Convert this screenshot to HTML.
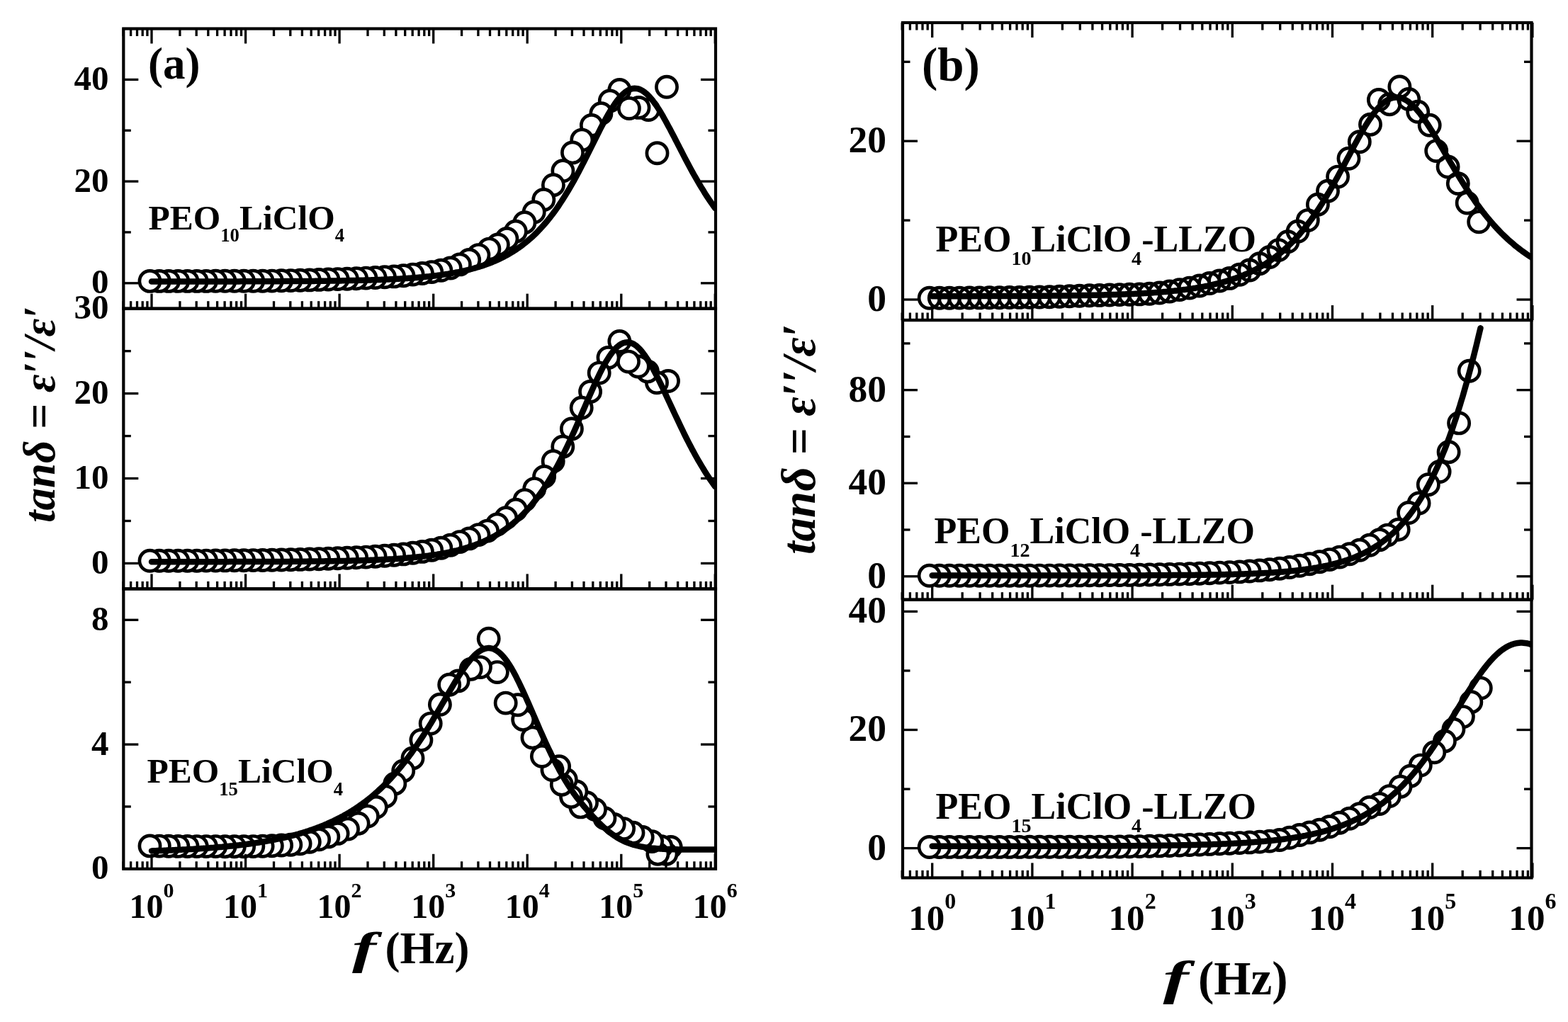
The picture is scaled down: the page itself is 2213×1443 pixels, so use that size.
<!DOCTYPE html>
<html><head><meta charset="utf-8"><style>html,body{margin:0;padding:0;background:#fff;}svg{display:block;filter:blur(0.5px);}</style></head><body>
<svg width="2213" height="1443" viewBox="0 0 2213 1443">
<rect width="2213" height="1443" fill="#fff"/>
<clipPath id="c_at"><rect x="174.3" y="40.5" width="835.7" height="395.2"/></clipPath>
<g clip-path="url(#c_at)" fill="#fff" stroke="#000" stroke-width="4.70">
<circle cx="941.0" cy="122.8" r="14.60"/>
<circle cx="927.5" cy="216.3" r="14.60"/>
<circle cx="915.1" cy="155.0" r="14.60"/>
<circle cx="901.5" cy="151.9" r="14.60"/>
<circle cx="887.9" cy="153.0" r="14.60"/>
<circle cx="874.4" cy="126.9" r="14.60"/>
<circle cx="860.8" cy="142.5" r="14.60"/>
<circle cx="848.4" cy="160.3" r="14.60"/>
<circle cx="834.9" cy="176.9" r="14.60"/>
<circle cx="821.3" cy="197.6" r="14.60"/>
<circle cx="808.0" cy="215.4" r="14.60"/>
<circle cx="794.4" cy="241.3" r="14.60"/>
<circle cx="780.9" cy="261.2" r="14.60"/>
<circle cx="767.3" cy="281.9" r="14.60"/>
<circle cx="753.7" cy="299.5" r="14.60"/>
<circle cx="740.4" cy="314.2" r="14.60"/>
<circle cx="727.8" cy="326.7" r="14.60"/>
<circle cx="715.4" cy="337.0" r="14.60"/>
<circle cx="702.8" cy="345.4" r="14.60"/>
<circle cx="690.4" cy="351.6" r="14.60"/>
<circle cx="675.4" cy="360.1" r="14.60"/>
<circle cx="662.2" cy="367.0" r="14.60"/>
<circle cx="648.9" cy="373.4" r="14.60"/>
<circle cx="635.7" cy="378.5" r="14.60"/>
<circle cx="622.4" cy="381.8" r="14.60"/>
<circle cx="609.2" cy="384.1" r="14.60"/>
<circle cx="595.9" cy="386.0" r="14.60"/>
<circle cx="582.6" cy="387.6" r="14.60"/>
<circle cx="569.4" cy="389.3" r="14.60"/>
<circle cx="556.1" cy="390.4" r="14.60"/>
<circle cx="542.9" cy="391.3" r="14.60"/>
<circle cx="529.6" cy="392.0" r="14.60"/>
<circle cx="516.4" cy="392.6" r="14.60"/>
<circle cx="503.1" cy="393.2" r="14.60"/>
<circle cx="489.9" cy="393.7" r="14.60"/>
<circle cx="476.6" cy="394.1" r="14.60"/>
<circle cx="463.3" cy="394.5" r="14.60"/>
<circle cx="450.1" cy="394.9" r="14.60"/>
<circle cx="436.8" cy="395.4" r="14.60"/>
<circle cx="423.6" cy="395.7" r="14.60"/>
<circle cx="410.3" cy="396.1" r="14.60"/>
<circle cx="397.1" cy="396.3" r="14.60"/>
<circle cx="383.8" cy="396.6" r="14.60"/>
<circle cx="370.6" cy="396.7" r="14.60"/>
<circle cx="357.3" cy="396.8" r="14.60"/>
<circle cx="344.1" cy="396.8" r="14.60"/>
<circle cx="330.8" cy="396.8" r="14.60"/>
<circle cx="317.5" cy="396.8" r="14.60"/>
<circle cx="304.3" cy="396.8" r="14.60"/>
<circle cx="291.0" cy="396.9" r="14.60"/>
<circle cx="277.8" cy="396.9" r="14.60"/>
<circle cx="264.5" cy="396.9" r="14.60"/>
<circle cx="251.3" cy="396.9" r="14.60"/>
<circle cx="238.0" cy="396.9" r="14.60"/>
<circle cx="224.8" cy="396.9" r="14.60"/>
<circle cx="211.5" cy="396.9" r="14.60"/>
<polyline points="214.0,397.5 216.0,397.5 218.0,397.5 220.0,397.5 222.0,397.5 224.0,397.5 226.0,397.5 228.0,397.5 229.9,397.5 231.9,397.5 233.9,397.5 235.9,397.5 237.9,397.5 239.9,397.5 241.9,397.5 243.9,397.5 245.9,397.4 247.9,397.4 249.9,397.4 251.9,397.4 253.9,397.4 255.9,397.4 257.9,397.4 259.8,397.4 261.8,397.4 263.8,397.4 265.8,397.4 267.8,397.4 269.8,397.4 271.8,397.4 273.8,397.4 275.8,397.4 277.8,397.4 279.8,397.4 281.8,397.4 283.8,397.4 285.8,397.4 287.7,397.4 289.7,397.4 291.7,397.4 293.7,397.4 295.7,397.4 297.7,397.4 299.7,397.4 301.7,397.4 303.7,397.4 305.7,397.4 307.7,397.4 309.7,397.4 311.7,397.4 313.7,397.4 315.7,397.4 317.6,397.4 319.6,397.4 321.6,397.4 323.6,397.4 325.6,397.4 327.6,397.4 329.6,397.4 331.6,397.4 333.6,397.4 335.6,397.4 337.6,397.4 339.6,397.3 341.6,397.3 343.6,397.3 345.6,397.3 347.5,397.3 349.5,397.3 351.5,397.3 353.5,397.3 355.5,397.3 357.5,397.3 359.5,397.3 361.5,397.3 363.5,397.3 365.5,397.3 367.5,397.3 369.5,397.3 371.5,397.3 373.5,397.3 375.5,397.3 377.4,397.2 379.4,397.2 381.4,397.2 383.4,397.2 385.4,397.2 387.4,397.2 389.4,397.2 391.4,397.2 393.4,397.2 395.4,397.2 397.4,397.2 399.4,397.2 401.4,397.1 403.4,397.1 405.4,397.1 407.3,397.1 409.3,397.1 411.3,397.1 413.3,397.1 415.3,397.1 417.3,397.1 419.3,397.0 421.3,397.0 423.3,397.0 425.3,397.0 427.3,397.0 429.3,397.0 431.3,397.0 433.3,396.9 435.2,396.9 437.2,396.9 439.2,396.9 441.2,396.9 443.2,396.9 445.2,396.8 447.2,396.8 449.2,396.8 451.2,396.8 453.2,396.7 455.2,396.7 457.2,396.7 459.2,396.7 461.2,396.7 463.2,396.6 465.1,396.6 467.1,396.6 469.1,396.6 471.1,396.5 473.1,396.5 475.1,396.5 477.1,396.4 479.1,396.4 481.1,396.4 483.1,396.3 485.1,396.3 487.1,396.3 489.1,396.2 491.1,396.2 493.1,396.1 495.0,396.1 497.0,396.1 499.0,396.0 501.0,396.0 503.0,395.9 505.0,395.9 507.0,395.8 509.0,395.8 511.0,395.7 513.0,395.7 515.0,395.6 517.0,395.6 519.0,395.5 521.0,395.5 523.0,395.4 524.9,395.3 526.9,395.3 528.9,395.2 530.9,395.1 532.9,395.1 534.9,395.0 536.9,394.9 538.9,394.8 540.9,394.7 542.9,394.7 544.9,394.6 546.9,394.5 548.9,394.4 550.9,394.3 552.8,394.2 554.8,394.1 556.8,394.0 558.8,393.9 560.8,393.8 562.8,393.7 564.8,393.6 566.8,393.4 568.8,393.3 570.8,393.2 572.8,393.1 574.8,392.9 576.8,392.8 578.8,392.7 580.8,392.5 582.7,392.4 584.7,392.2 586.7,392.0 588.7,391.9 590.7,391.7 592.7,391.5 594.7,391.4 596.7,391.2 598.7,391.0 600.7,390.8 602.7,390.6 604.7,390.4 606.7,390.1 608.7,389.9 610.7,389.7 612.6,389.5 614.6,389.2 616.6,389.0 618.6,388.7 620.6,388.4 622.6,388.2 624.6,387.9 626.6,387.6 628.6,387.3 630.6,387.0 632.6,386.7 634.6,386.3 636.6,386.0 638.6,385.7 640.6,385.3 642.5,384.9 644.5,384.5 646.5,384.2 648.5,383.8 650.5,383.3 652.5,382.9 654.5,382.5 656.5,382.0 658.5,381.5 660.5,381.1 662.5,380.6 664.5,380.0 666.5,379.5 668.5,379.0 670.5,378.4 672.4,377.8 674.4,377.2 676.4,376.6 678.4,376.0 680.4,375.4 682.4,374.7 684.4,374.0 686.4,373.3 688.4,372.6 690.4,371.8 692.4,371.0 694.4,370.2 696.4,369.4 698.4,368.6 700.3,367.7 702.3,366.8 704.3,365.9 706.3,364.9 708.3,363.9 710.3,362.9 712.3,361.9 714.3,360.8 716.3,359.7 718.3,358.6 720.3,357.4 722.3,356.2 724.3,355.0 726.3,353.7 728.3,352.4 730.2,351.1 732.2,349.7 734.2,348.3 736.2,346.8 738.2,345.3 740.2,343.7 742.2,342.1 744.2,340.5 746.2,338.8 748.2,337.1 750.2,335.3 752.2,333.5 754.2,331.6 756.2,329.7 758.2,327.7 760.1,325.6 762.1,323.5 764.1,321.4 766.1,319.2 768.1,316.9 770.1,314.6 772.1,312.2 774.1,309.8 776.1,307.3 778.1,304.7 780.1,302.1 782.1,299.4 784.1,296.7 786.1,293.9 788.1,291.0 790.0,288.0 792.0,285.0 794.0,281.9 796.0,278.8 798.0,275.6 800.0,272.3 802.0,269.0 804.0,265.6 806.0,262.2 808.0,258.7 810.0,255.1 812.0,251.5 814.0,247.8 816.0,244.1 817.9,240.3 819.9,236.5 821.9,232.6 823.9,228.7 825.9,224.8 827.9,220.8 829.9,216.8 831.9,212.8 833.9,208.8 835.9,204.8 837.9,200.8 839.9,196.8 841.9,192.8 843.9,188.8 845.9,184.9 847.8,181.0 849.8,177.2 851.8,173.4 853.8,169.7 855.8,166.1 857.8,162.5 859.8,159.1 861.8,155.7 863.8,152.5 865.8,149.5 867.8,146.5 869.8,143.7 871.8,141.1 873.8,138.6 875.8,136.4 877.7,134.3 879.7,132.4 881.7,130.7 883.7,129.2 885.7,127.9 887.7,126.8 889.7,126.0 891.7,125.4 893.7,125.0 895.7,124.8 897.7,124.9 899.7,125.2 901.7,125.7 903.7,126.5 905.7,127.5 907.6,128.7 909.6,130.1 911.6,131.7 913.6,133.5 915.6,135.5 917.6,137.6 919.6,140.0 921.6,142.5 923.6,145.2 925.6,148.0 927.6,151.0 929.6,154.0 931.6,157.2 933.6,160.6 935.6,164.0 937.5,167.5 939.5,171.0 941.5,174.7 943.5,178.4 945.5,182.1 947.5,185.9 949.5,189.8 951.5,193.6 953.5,197.5 955.5,201.4 957.5,205.2 959.5,209.1 961.5,213.0 963.5,216.9 965.4,220.7 967.4,224.5 969.4,228.3 971.4,232.1 973.4,235.8 975.4,239.5 977.4,243.1 979.4,246.7 981.4,250.2 983.4,253.7 985.4,257.1 987.4,260.5 989.4,263.9 991.4,267.1 993.4,270.3 995.3,273.5 997.3,276.6 999.3,279.6 1001.3,282.6 1003.3,285.5 1005.3,288.4 1007.3,291.2 1009.3,293.9" fill="none" stroke-width="8.50" stroke-linejoin="round" stroke-linecap="round"/>
</g>
<g stroke="#000" stroke-width="3.30" fill="none">
<line x1="174.1" y1="435.7" x2="174.1" y2="425.2"/>
<line x1="174.1" y1="40.5" x2="174.1" y2="51.0"/>
<line x1="184.6" y1="435.7" x2="184.6" y2="425.2"/>
<line x1="184.6" y1="40.5" x2="184.6" y2="51.0"/>
<line x1="193.5" y1="435.7" x2="193.5" y2="425.2"/>
<line x1="193.5" y1="40.5" x2="193.5" y2="51.0"/>
<line x1="201.2" y1="435.7" x2="201.2" y2="425.2"/>
<line x1="201.2" y1="40.5" x2="201.2" y2="51.0"/>
<line x1="207.9" y1="435.7" x2="207.9" y2="425.2"/>
<line x1="207.9" y1="40.5" x2="207.9" y2="51.0"/>
<line x1="214.0" y1="435.7" x2="214.0" y2="414.7"/>
<line x1="214.0" y1="40.5" x2="214.0" y2="61.5"/>
<line x1="253.9" y1="435.7" x2="253.9" y2="425.2"/>
<line x1="253.9" y1="40.5" x2="253.9" y2="51.0"/>
<line x1="277.2" y1="435.7" x2="277.2" y2="425.2"/>
<line x1="277.2" y1="40.5" x2="277.2" y2="51.0"/>
<line x1="293.8" y1="435.7" x2="293.8" y2="425.2"/>
<line x1="293.8" y1="40.5" x2="293.8" y2="51.0"/>
<line x1="306.6" y1="435.7" x2="306.6" y2="425.2"/>
<line x1="306.6" y1="40.5" x2="306.6" y2="51.0"/>
<line x1="317.1" y1="435.7" x2="317.1" y2="425.2"/>
<line x1="317.1" y1="40.5" x2="317.1" y2="51.0"/>
<line x1="326.0" y1="435.7" x2="326.0" y2="425.2"/>
<line x1="326.0" y1="40.5" x2="326.0" y2="51.0"/>
<line x1="333.7" y1="435.7" x2="333.7" y2="425.2"/>
<line x1="333.7" y1="40.5" x2="333.7" y2="51.0"/>
<line x1="340.5" y1="435.7" x2="340.5" y2="425.2"/>
<line x1="340.5" y1="40.5" x2="340.5" y2="51.0"/>
<line x1="346.6" y1="435.7" x2="346.6" y2="414.7"/>
<line x1="346.6" y1="40.5" x2="346.6" y2="61.5"/>
<line x1="386.5" y1="435.7" x2="386.5" y2="425.2"/>
<line x1="386.5" y1="40.5" x2="386.5" y2="51.0"/>
<line x1="409.8" y1="435.7" x2="409.8" y2="425.2"/>
<line x1="409.8" y1="40.5" x2="409.8" y2="51.0"/>
<line x1="426.4" y1="435.7" x2="426.4" y2="425.2"/>
<line x1="426.4" y1="40.5" x2="426.4" y2="51.0"/>
<line x1="439.2" y1="435.7" x2="439.2" y2="425.2"/>
<line x1="439.2" y1="40.5" x2="439.2" y2="51.0"/>
<line x1="449.7" y1="435.7" x2="449.7" y2="425.2"/>
<line x1="449.7" y1="40.5" x2="449.7" y2="51.0"/>
<line x1="458.6" y1="435.7" x2="458.6" y2="425.2"/>
<line x1="458.6" y1="40.5" x2="458.6" y2="51.0"/>
<line x1="466.3" y1="435.7" x2="466.3" y2="425.2"/>
<line x1="466.3" y1="40.5" x2="466.3" y2="51.0"/>
<line x1="473.0" y1="435.7" x2="473.0" y2="425.2"/>
<line x1="473.0" y1="40.5" x2="473.0" y2="51.0"/>
<line x1="479.1" y1="435.7" x2="479.1" y2="414.7"/>
<line x1="479.1" y1="40.5" x2="479.1" y2="61.5"/>
<line x1="519.0" y1="435.7" x2="519.0" y2="425.2"/>
<line x1="519.0" y1="40.5" x2="519.0" y2="51.0"/>
<line x1="542.3" y1="435.7" x2="542.3" y2="425.2"/>
<line x1="542.3" y1="40.5" x2="542.3" y2="51.0"/>
<line x1="558.9" y1="435.7" x2="558.9" y2="425.2"/>
<line x1="558.9" y1="40.5" x2="558.9" y2="51.0"/>
<line x1="571.7" y1="435.7" x2="571.7" y2="425.2"/>
<line x1="571.7" y1="40.5" x2="571.7" y2="51.0"/>
<line x1="582.2" y1="435.7" x2="582.2" y2="425.2"/>
<line x1="582.2" y1="40.5" x2="582.2" y2="51.0"/>
<line x1="591.1" y1="435.7" x2="591.1" y2="425.2"/>
<line x1="591.1" y1="40.5" x2="591.1" y2="51.0"/>
<line x1="598.8" y1="435.7" x2="598.8" y2="425.2"/>
<line x1="598.8" y1="40.5" x2="598.8" y2="51.0"/>
<line x1="605.6" y1="435.7" x2="605.6" y2="425.2"/>
<line x1="605.6" y1="40.5" x2="605.6" y2="51.0"/>
<line x1="611.7" y1="435.7" x2="611.7" y2="414.7"/>
<line x1="611.7" y1="40.5" x2="611.7" y2="61.5"/>
<line x1="651.6" y1="435.7" x2="651.6" y2="425.2"/>
<line x1="651.6" y1="40.5" x2="651.6" y2="51.0"/>
<line x1="674.9" y1="435.7" x2="674.9" y2="425.2"/>
<line x1="674.9" y1="40.5" x2="674.9" y2="51.0"/>
<line x1="691.5" y1="435.7" x2="691.5" y2="425.2"/>
<line x1="691.5" y1="40.5" x2="691.5" y2="51.0"/>
<line x1="704.3" y1="435.7" x2="704.3" y2="425.2"/>
<line x1="704.3" y1="40.5" x2="704.3" y2="51.0"/>
<line x1="714.8" y1="435.7" x2="714.8" y2="425.2"/>
<line x1="714.8" y1="40.5" x2="714.8" y2="51.0"/>
<line x1="723.7" y1="435.7" x2="723.7" y2="425.2"/>
<line x1="723.7" y1="40.5" x2="723.7" y2="51.0"/>
<line x1="731.4" y1="435.7" x2="731.4" y2="425.2"/>
<line x1="731.4" y1="40.5" x2="731.4" y2="51.0"/>
<line x1="738.1" y1="435.7" x2="738.1" y2="425.2"/>
<line x1="738.1" y1="40.5" x2="738.1" y2="51.0"/>
<line x1="744.2" y1="435.7" x2="744.2" y2="414.7"/>
<line x1="744.2" y1="40.5" x2="744.2" y2="61.5"/>
<line x1="784.1" y1="435.7" x2="784.1" y2="425.2"/>
<line x1="784.1" y1="40.5" x2="784.1" y2="51.0"/>
<line x1="807.4" y1="435.7" x2="807.4" y2="425.2"/>
<line x1="807.4" y1="40.5" x2="807.4" y2="51.0"/>
<line x1="824.0" y1="435.7" x2="824.0" y2="425.2"/>
<line x1="824.0" y1="40.5" x2="824.0" y2="51.0"/>
<line x1="836.8" y1="435.7" x2="836.8" y2="425.2"/>
<line x1="836.8" y1="40.5" x2="836.8" y2="51.0"/>
<line x1="847.3" y1="435.7" x2="847.3" y2="425.2"/>
<line x1="847.3" y1="40.5" x2="847.3" y2="51.0"/>
<line x1="856.2" y1="435.7" x2="856.2" y2="425.2"/>
<line x1="856.2" y1="40.5" x2="856.2" y2="51.0"/>
<line x1="863.9" y1="435.7" x2="863.9" y2="425.2"/>
<line x1="863.9" y1="40.5" x2="863.9" y2="51.0"/>
<line x1="870.7" y1="435.7" x2="870.7" y2="425.2"/>
<line x1="870.7" y1="40.5" x2="870.7" y2="51.0"/>
<line x1="876.8" y1="435.7" x2="876.8" y2="414.7"/>
<line x1="876.8" y1="40.5" x2="876.8" y2="61.5"/>
<line x1="916.7" y1="435.7" x2="916.7" y2="425.2"/>
<line x1="916.7" y1="40.5" x2="916.7" y2="51.0"/>
<line x1="940.0" y1="435.7" x2="940.0" y2="425.2"/>
<line x1="940.0" y1="40.5" x2="940.0" y2="51.0"/>
<line x1="956.6" y1="435.7" x2="956.6" y2="425.2"/>
<line x1="956.6" y1="40.5" x2="956.6" y2="51.0"/>
<line x1="969.4" y1="435.7" x2="969.4" y2="425.2"/>
<line x1="969.4" y1="40.5" x2="969.4" y2="51.0"/>
<line x1="979.9" y1="435.7" x2="979.9" y2="425.2"/>
<line x1="979.9" y1="40.5" x2="979.9" y2="51.0"/>
<line x1="988.8" y1="435.7" x2="988.8" y2="425.2"/>
<line x1="988.8" y1="40.5" x2="988.8" y2="51.0"/>
<line x1="996.5" y1="435.7" x2="996.5" y2="425.2"/>
<line x1="996.5" y1="40.5" x2="996.5" y2="51.0"/>
<line x1="1003.2" y1="435.7" x2="1003.2" y2="425.2"/>
<line x1="1003.2" y1="40.5" x2="1003.2" y2="51.0"/>
<line x1="1009.3" y1="435.7" x2="1009.3" y2="414.7"/>
<line x1="1009.3" y1="40.5" x2="1009.3" y2="61.5"/>
<line x1="174.3" y1="399.8" x2="195.3" y2="399.8"/><line x1="1010.0" y1="399.8" x2="989.0" y2="399.8"/>
<line x1="174.3" y1="256.1" x2="195.3" y2="256.1"/><line x1="1010.0" y1="256.1" x2="989.0" y2="256.1"/>
<line x1="174.3" y1="112.4" x2="195.3" y2="112.4"/><line x1="1010.0" y1="112.4" x2="989.0" y2="112.4"/>
<line x1="174.3" y1="327.9" x2="184.8" y2="327.9"/><line x1="1010.0" y1="327.9" x2="999.5" y2="327.9"/>
<line x1="174.3" y1="184.2" x2="184.8" y2="184.2"/><line x1="1010.0" y1="184.2" x2="999.5" y2="184.2"/>
</g>
<rect x="174.3" y="40.5" width="835.7" height="395.2" fill="none" stroke="#000" stroke-width="4.20"/>
<text x="153.5" y="414.2" font-family="'Liberation Serif', 'Times New Roman', serif" font-weight="bold" font-size="49.0" text-anchor="end">0</text>
<text x="153.5" y="270.5" font-family="'Liberation Serif', 'Times New Roman', serif" font-weight="bold" font-size="49.0" text-anchor="end">20</text>
<text x="153.5" y="126.8" font-family="'Liberation Serif', 'Times New Roman', serif" font-weight="bold" font-size="49.0" text-anchor="end">40</text>
<clipPath id="c_am"><rect x="174.3" y="435.7" width="835.7" height="395.7"/></clipPath>
<g clip-path="url(#c_am)" fill="#fff" stroke="#000" stroke-width="4.70">
<circle cx="943.0" cy="538.0" r="14.60"/>
<circle cx="927.0" cy="540.3" r="14.60"/>
<circle cx="913.9" cy="524.4" r="14.60"/>
<circle cx="900.7" cy="517.5" r="14.60"/>
<circle cx="887.0" cy="510.6" r="14.60"/>
<circle cx="874.4" cy="482.0" r="14.60"/>
<circle cx="858.5" cy="504.9" r="14.60"/>
<circle cx="845.7" cy="526.6" r="14.60"/>
<circle cx="833.1" cy="552.9" r="14.60"/>
<circle cx="820.7" cy="575.8" r="14.60"/>
<circle cx="806.9" cy="605.5" r="14.60"/>
<circle cx="794.3" cy="630.7" r="14.60"/>
<circle cx="780.7" cy="651.2" r="14.60"/>
<circle cx="768.1" cy="673.0" r="14.60"/>
<circle cx="754.3" cy="690.1" r="14.60"/>
<circle cx="740.6" cy="706.1" r="14.60"/>
<circle cx="728.0" cy="719.8" r="14.60"/>
<circle cx="714.2" cy="731.3" r="14.60"/>
<circle cx="701.7" cy="740.4" r="14.60"/>
<circle cx="688.0" cy="749.6" r="14.60"/>
<circle cx="675.4" cy="755.1" r="14.60"/>
<circle cx="662.2" cy="760.4" r="14.60"/>
<circle cx="648.9" cy="765.1" r="14.60"/>
<circle cx="635.7" cy="769.7" r="14.60"/>
<circle cx="622.4" cy="773.8" r="14.60"/>
<circle cx="609.2" cy="776.7" r="14.60"/>
<circle cx="595.9" cy="778.9" r="14.60"/>
<circle cx="582.6" cy="780.8" r="14.60"/>
<circle cx="569.4" cy="782.4" r="14.60"/>
<circle cx="556.1" cy="783.7" r="14.60"/>
<circle cx="542.9" cy="784.8" r="14.60"/>
<circle cx="529.6" cy="785.7" r="14.60"/>
<circle cx="516.4" cy="786.6" r="14.60"/>
<circle cx="503.1" cy="787.3" r="14.60"/>
<circle cx="489.9" cy="787.8" r="14.60"/>
<circle cx="476.6" cy="788.3" r="14.60"/>
<circle cx="463.3" cy="788.7" r="14.60"/>
<circle cx="450.1" cy="789.2" r="14.60"/>
<circle cx="436.8" cy="789.5" r="14.60"/>
<circle cx="423.6" cy="789.9" r="14.60"/>
<circle cx="410.3" cy="790.2" r="14.60"/>
<circle cx="397.1" cy="790.5" r="14.60"/>
<circle cx="383.8" cy="790.8" r="14.60"/>
<circle cx="370.6" cy="791.0" r="14.60"/>
<circle cx="357.3" cy="791.1" r="14.60"/>
<circle cx="344.1" cy="791.2" r="14.60"/>
<circle cx="330.8" cy="791.3" r="14.60"/>
<circle cx="317.5" cy="791.4" r="14.60"/>
<circle cx="304.3" cy="791.5" r="14.60"/>
<circle cx="291.0" cy="791.6" r="14.60"/>
<circle cx="277.8" cy="791.7" r="14.60"/>
<circle cx="264.5" cy="791.7" r="14.60"/>
<circle cx="251.3" cy="791.8" r="14.60"/>
<circle cx="238.0" cy="791.8" r="14.60"/>
<circle cx="224.8" cy="791.8" r="14.60"/>
<circle cx="211.5" cy="791.8" r="14.60"/>
<polyline points="214.0,793.2 216.0,793.2 218.0,793.2 220.0,793.2 222.0,793.2 224.0,793.2 226.0,793.2 228.0,793.2 229.9,793.2 231.9,793.2 233.9,793.2 235.9,793.2 237.9,793.2 239.9,793.2 241.9,793.2 243.9,793.2 245.9,793.2 247.9,793.2 249.9,793.2 251.9,793.2 253.9,793.2 255.9,793.2 257.9,793.2 259.8,793.2 261.8,793.2 263.8,793.2 265.8,793.2 267.8,793.2 269.8,793.2 271.8,793.2 273.8,793.2 275.8,793.2 277.8,793.2 279.8,793.2 281.8,793.2 283.8,793.2 285.8,793.2 287.7,793.2 289.7,793.2 291.7,793.2 293.7,793.2 295.7,793.2 297.7,793.2 299.7,793.2 301.7,793.2 303.7,793.2 305.7,793.2 307.7,793.2 309.7,793.2 311.7,793.2 313.7,793.2 315.7,793.2 317.6,793.2 319.6,793.2 321.6,793.2 323.6,793.1 325.6,793.1 327.6,793.1 329.6,793.1 331.6,793.1 333.6,793.1 335.6,793.1 337.6,793.1 339.6,793.1 341.6,793.1 343.6,793.1 345.6,793.1 347.5,793.1 349.5,793.1 351.5,793.1 353.5,793.1 355.5,793.1 357.5,793.1 359.5,793.1 361.5,793.1 363.5,793.1 365.5,793.0 367.5,793.0 369.5,793.0 371.5,793.0 373.5,793.0 375.5,793.0 377.4,793.0 379.4,793.0 381.4,793.0 383.4,793.0 385.4,793.0 387.4,793.0 389.4,793.0 391.4,792.9 393.4,792.9 395.4,792.9 397.4,792.9 399.4,792.9 401.4,792.9 403.4,792.9 405.4,792.9 407.3,792.9 409.3,792.8 411.3,792.8 413.3,792.8 415.3,792.8 417.3,792.8 419.3,792.8 421.3,792.8 423.3,792.7 425.3,792.7 427.3,792.7 429.3,792.7 431.3,792.7 433.3,792.7 435.2,792.6 437.2,792.6 439.2,792.6 441.2,792.6 443.2,792.5 445.2,792.5 447.2,792.5 449.2,792.5 451.2,792.5 453.2,792.4 455.2,792.4 457.2,792.4 459.2,792.3 461.2,792.3 463.2,792.3 465.1,792.3 467.1,792.2 469.1,792.2 471.1,792.2 473.1,792.1 475.1,792.1 477.1,792.1 479.1,792.0 481.1,792.0 483.1,791.9 485.1,791.9 487.1,791.9 489.1,791.8 491.1,791.8 493.1,791.7 495.0,791.7 497.0,791.6 499.0,791.6 501.0,791.5 503.0,791.5 505.0,791.4 507.0,791.4 509.0,791.3 511.0,791.2 513.0,791.2 515.0,791.1 517.0,791.0 519.0,791.0 521.0,790.9 523.0,790.8 524.9,790.7 526.9,790.7 528.9,790.6 530.9,790.5 532.9,790.4 534.9,790.3 536.9,790.2 538.9,790.1 540.9,790.0 542.9,789.9 544.9,789.8 546.9,789.7 548.9,789.6 550.9,789.5 552.8,789.4 554.8,789.3 556.8,789.1 558.8,789.0 560.8,788.9 562.8,788.7 564.8,788.6 566.8,788.4 568.8,788.3 570.8,788.1 572.8,788.0 574.8,787.8 576.8,787.6 578.8,787.5 580.8,787.3 582.7,787.1 584.7,786.9 586.7,786.7 588.7,786.5 590.7,786.3 592.7,786.1 594.7,785.9 596.7,785.6 598.7,785.4 600.7,785.1 602.7,784.9 604.7,784.6 606.7,784.3 608.7,784.1 610.7,783.8 612.6,783.5 614.6,783.2 616.6,782.9 618.6,782.5 620.6,782.2 622.6,781.9 624.6,781.5 626.6,781.1 628.6,780.8 630.6,780.4 632.6,780.0 634.6,779.5 636.6,779.1 638.6,778.7 640.6,778.2 642.5,777.7 644.5,777.3 646.5,776.8 648.5,776.2 650.5,775.7 652.5,775.2 654.5,774.6 656.5,774.0 658.5,773.4 660.5,772.8 662.5,772.1 664.5,771.5 666.5,770.8 668.5,770.1 670.5,769.4 672.4,768.6 674.4,767.9 676.4,767.1 678.4,766.3 680.4,765.4 682.4,764.6 684.4,763.7 686.4,762.7 688.4,761.8 690.4,760.8 692.4,759.8 694.4,758.8 696.4,757.7 698.4,756.6 700.3,755.5 702.3,754.3 704.3,753.1 706.3,751.8 708.3,750.6 710.3,749.2 712.3,747.9 714.3,746.5 716.3,745.0 718.3,743.5 720.3,742.0 722.3,740.4 724.3,738.8 726.3,737.1 728.3,735.4 730.2,733.7 732.2,731.8 734.2,730.0 736.2,728.0 738.2,726.1 740.2,724.0 742.2,721.9 744.2,719.8 746.2,717.5 748.2,715.3 750.2,712.9 752.2,710.5 754.2,708.0 756.2,705.5 758.2,702.9 760.1,700.2 762.1,697.5 764.1,694.7 766.1,691.8 768.1,688.8 770.1,685.8 772.1,682.7 774.1,679.5 776.1,676.2 778.1,672.9 780.1,669.5 782.1,666.0 784.1,662.4 786.1,658.8 788.1,655.1 790.0,651.3 792.0,647.4 794.0,643.5 796.0,639.5 798.0,635.4 800.0,631.3 802.0,627.0 804.0,622.8 806.0,618.5 808.0,614.1 810.0,609.7 812.0,605.2 814.0,600.7 816.0,596.1 817.9,591.5 819.9,586.9 821.9,582.3 823.9,577.7 825.9,573.1 827.9,568.4 829.9,563.8 831.9,559.2 833.9,554.7 835.9,550.2 837.9,545.7 839.9,541.3 841.9,537.0 843.9,532.8 845.9,528.7 847.8,524.7 849.8,520.8 851.8,517.0 853.8,513.4 855.8,509.9 857.8,506.7 859.8,503.5 861.8,500.6 863.8,497.9 865.8,495.4 867.8,493.1 869.8,491.0 871.8,489.2 873.8,487.6 875.8,486.2 877.7,485.1 879.7,484.3 881.7,483.7 883.7,483.4 885.7,483.3 887.7,483.5 889.7,483.9 891.7,484.6 893.7,485.5 895.7,486.7 897.7,488.1 899.7,489.8 901.7,491.6 903.7,493.7 905.7,496.0 907.6,498.5 909.6,501.2 911.6,504.1 913.6,507.1 915.6,510.3 917.6,513.6 919.6,517.1 921.6,520.7 923.6,524.4 925.6,528.2 927.6,532.1 929.6,536.1 931.6,540.2 933.6,544.3 935.6,548.4 937.5,552.7 939.5,556.9 941.5,561.2 943.5,565.5 945.5,569.8 947.5,574.1 949.5,578.4 951.5,582.7 953.5,587.0 955.5,591.2 957.5,595.4 959.5,599.6 961.5,603.8 963.5,607.9 965.4,612.0 967.4,616.0 969.4,620.0 971.4,623.9 973.4,627.8 975.4,631.6 977.4,635.4 979.4,639.0 981.4,642.7 983.4,646.3 985.4,649.8 987.4,653.2 989.4,656.6 991.4,659.9 993.4,663.2 995.3,666.4 997.3,669.5 999.3,672.6 1001.3,675.6 1003.3,678.5 1005.3,681.4 1007.3,684.2 1009.3,686.9" fill="none" stroke-width="8.50" stroke-linejoin="round" stroke-linecap="round"/>
</g>
<g stroke="#000" stroke-width="3.30" fill="none">
<line x1="174.1" y1="831.4" x2="174.1" y2="820.9"/>
<line x1="184.6" y1="831.4" x2="184.6" y2="820.9"/>
<line x1="193.5" y1="831.4" x2="193.5" y2="820.9"/>
<line x1="201.2" y1="831.4" x2="201.2" y2="820.9"/>
<line x1="207.9" y1="831.4" x2="207.9" y2="820.9"/>
<line x1="214.0" y1="831.4" x2="214.0" y2="810.4"/>
<line x1="253.9" y1="831.4" x2="253.9" y2="820.9"/>
<line x1="277.2" y1="831.4" x2="277.2" y2="820.9"/>
<line x1="293.8" y1="831.4" x2="293.8" y2="820.9"/>
<line x1="306.6" y1="831.4" x2="306.6" y2="820.9"/>
<line x1="317.1" y1="831.4" x2="317.1" y2="820.9"/>
<line x1="326.0" y1="831.4" x2="326.0" y2="820.9"/>
<line x1="333.7" y1="831.4" x2="333.7" y2="820.9"/>
<line x1="340.5" y1="831.4" x2="340.5" y2="820.9"/>
<line x1="346.6" y1="831.4" x2="346.6" y2="810.4"/>
<line x1="386.5" y1="831.4" x2="386.5" y2="820.9"/>
<line x1="409.8" y1="831.4" x2="409.8" y2="820.9"/>
<line x1="426.4" y1="831.4" x2="426.4" y2="820.9"/>
<line x1="439.2" y1="831.4" x2="439.2" y2="820.9"/>
<line x1="449.7" y1="831.4" x2="449.7" y2="820.9"/>
<line x1="458.6" y1="831.4" x2="458.6" y2="820.9"/>
<line x1="466.3" y1="831.4" x2="466.3" y2="820.9"/>
<line x1="473.0" y1="831.4" x2="473.0" y2="820.9"/>
<line x1="479.1" y1="831.4" x2="479.1" y2="810.4"/>
<line x1="519.0" y1="831.4" x2="519.0" y2="820.9"/>
<line x1="542.3" y1="831.4" x2="542.3" y2="820.9"/>
<line x1="558.9" y1="831.4" x2="558.9" y2="820.9"/>
<line x1="571.7" y1="831.4" x2="571.7" y2="820.9"/>
<line x1="582.2" y1="831.4" x2="582.2" y2="820.9"/>
<line x1="591.1" y1="831.4" x2="591.1" y2="820.9"/>
<line x1="598.8" y1="831.4" x2="598.8" y2="820.9"/>
<line x1="605.6" y1="831.4" x2="605.6" y2="820.9"/>
<line x1="611.7" y1="831.4" x2="611.7" y2="810.4"/>
<line x1="651.6" y1="831.4" x2="651.6" y2="820.9"/>
<line x1="674.9" y1="831.4" x2="674.9" y2="820.9"/>
<line x1="691.5" y1="831.4" x2="691.5" y2="820.9"/>
<line x1="704.3" y1="831.4" x2="704.3" y2="820.9"/>
<line x1="714.8" y1="831.4" x2="714.8" y2="820.9"/>
<line x1="723.7" y1="831.4" x2="723.7" y2="820.9"/>
<line x1="731.4" y1="831.4" x2="731.4" y2="820.9"/>
<line x1="738.1" y1="831.4" x2="738.1" y2="820.9"/>
<line x1="744.2" y1="831.4" x2="744.2" y2="810.4"/>
<line x1="784.1" y1="831.4" x2="784.1" y2="820.9"/>
<line x1="807.4" y1="831.4" x2="807.4" y2="820.9"/>
<line x1="824.0" y1="831.4" x2="824.0" y2="820.9"/>
<line x1="836.8" y1="831.4" x2="836.8" y2="820.9"/>
<line x1="847.3" y1="831.4" x2="847.3" y2="820.9"/>
<line x1="856.2" y1="831.4" x2="856.2" y2="820.9"/>
<line x1="863.9" y1="831.4" x2="863.9" y2="820.9"/>
<line x1="870.7" y1="831.4" x2="870.7" y2="820.9"/>
<line x1="876.8" y1="831.4" x2="876.8" y2="810.4"/>
<line x1="916.7" y1="831.4" x2="916.7" y2="820.9"/>
<line x1="940.0" y1="831.4" x2="940.0" y2="820.9"/>
<line x1="956.6" y1="831.4" x2="956.6" y2="820.9"/>
<line x1="969.4" y1="831.4" x2="969.4" y2="820.9"/>
<line x1="979.9" y1="831.4" x2="979.9" y2="820.9"/>
<line x1="988.8" y1="831.4" x2="988.8" y2="820.9"/>
<line x1="996.5" y1="831.4" x2="996.5" y2="820.9"/>
<line x1="1003.2" y1="831.4" x2="1003.2" y2="820.9"/>
<line x1="1009.3" y1="831.4" x2="1009.3" y2="810.4"/>
<line x1="174.3" y1="795.4" x2="195.3" y2="795.4"/><line x1="1010.0" y1="795.4" x2="989.0" y2="795.4"/>
<line x1="174.3" y1="675.5" x2="195.3" y2="675.5"/><line x1="1010.0" y1="675.5" x2="989.0" y2="675.5"/>
<line x1="174.3" y1="555.6" x2="195.3" y2="555.6"/><line x1="1010.0" y1="555.6" x2="989.0" y2="555.6"/>
<line x1="174.3" y1="735.5" x2="184.8" y2="735.5"/><line x1="1010.0" y1="735.5" x2="999.5" y2="735.5"/>
<line x1="174.3" y1="615.6" x2="184.8" y2="615.6"/><line x1="1010.0" y1="615.6" x2="999.5" y2="615.6"/>
<line x1="174.3" y1="495.7" x2="184.8" y2="495.7"/><line x1="1010.0" y1="495.7" x2="999.5" y2="495.7"/>
</g>
<rect x="174.3" y="435.7" width="835.7" height="395.7" fill="none" stroke="#000" stroke-width="4.20"/>
<text x="153.5" y="809.8" font-family="'Liberation Serif', 'Times New Roman', serif" font-weight="bold" font-size="49.0" text-anchor="end">0</text>
<text x="153.5" y="689.9" font-family="'Liberation Serif', 'Times New Roman', serif" font-weight="bold" font-size="49.0" text-anchor="end">10</text>
<text x="153.5" y="570.0" font-family="'Liberation Serif', 'Times New Roman', serif" font-weight="bold" font-size="49.0" text-anchor="end">20</text>
<text x="153.5" y="450.1" font-family="'Liberation Serif', 'Times New Roman', serif" font-weight="bold" font-size="49.0" text-anchor="end">30</text>
<clipPath id="c_ab"><rect x="174.3" y="831.4" width="835.7" height="395.4"/></clipPath>
<g clip-path="url(#c_ab)" fill="#fff" stroke="#000" stroke-width="4.70">
<circle cx="946.7" cy="1196.0" r="14.60"/>
<circle cx="940.4" cy="1205.7" r="14.60"/>
<circle cx="933.3" cy="1195.2" r="14.60"/>
<circle cx="928.4" cy="1205.7" r="14.60"/>
<circle cx="920.1" cy="1188.1" r="14.60"/>
<circle cx="906.7" cy="1182.0" r="14.60"/>
<circle cx="893.5" cy="1175.8" r="14.60"/>
<circle cx="880.1" cy="1170.1" r="14.60"/>
<circle cx="866.7" cy="1164.0" r="14.60"/>
<circle cx="853.4" cy="1155.2" r="14.60"/>
<circle cx="840.0" cy="1142.9" r="14.60"/>
<circle cx="828.0" cy="1133.2" r="14.60"/>
<circle cx="819.4" cy="1139.4" r="14.60"/>
<circle cx="813.4" cy="1117.4" r="14.60"/>
<circle cx="806.1" cy="1124.9" r="14.60"/>
<circle cx="798.8" cy="1100.7" r="14.60"/>
<circle cx="792.8" cy="1107.7" r="14.60"/>
<circle cx="789.1" cy="1082.3" r="14.60"/>
<circle cx="779.5" cy="1087.1" r="14.60"/>
<circle cx="764.9" cy="1067.8" r="14.60"/>
<circle cx="751.5" cy="1041.4" r="14.60"/>
<circle cx="738.2" cy="1015.9" r="14.60"/>
<circle cx="730.9" cy="995.3" r="14.60"/>
<circle cx="713.7" cy="992.6" r="14.60"/>
<circle cx="701.8" cy="949.1" r="14.60"/>
<circle cx="689.7" cy="901.7" r="14.60"/>
<circle cx="677.9" cy="942.1" r="14.60"/>
<circle cx="664.7" cy="944.7" r="14.60"/>
<circle cx="646.6" cy="961.4" r="14.60"/>
<circle cx="634.2" cy="966.7" r="14.60"/>
<circle cx="620.9" cy="994.8" r="14.60"/>
<circle cx="607.7" cy="1021.6" r="14.60"/>
<circle cx="594.4" cy="1044.9" r="14.60"/>
<circle cx="582.5" cy="1070.4" r="14.60"/>
<circle cx="569.2" cy="1088.4" r="14.60"/>
<circle cx="557.3" cy="1106.4" r="14.60"/>
<circle cx="544.0" cy="1124.4" r="14.60"/>
<circle cx="530.8" cy="1139.8" r="14.60"/>
<circle cx="518.9" cy="1152.6" r="14.60"/>
<circle cx="505.6" cy="1162.7" r="14.60"/>
<circle cx="491.0" cy="1170.6" r="14.60"/>
<circle cx="476.6" cy="1176.9" r="14.60"/>
<circle cx="463.3" cy="1181.4" r="14.60"/>
<circle cx="450.1" cy="1185.3" r="14.60"/>
<circle cx="436.8" cy="1188.7" r="14.60"/>
<circle cx="423.6" cy="1191.3" r="14.60"/>
<circle cx="410.3" cy="1192.7" r="14.60"/>
<circle cx="397.1" cy="1193.5" r="14.60"/>
<circle cx="383.8" cy="1194.2" r="14.60"/>
<circle cx="370.6" cy="1194.8" r="14.60"/>
<circle cx="357.3" cy="1195.1" r="14.60"/>
<circle cx="344.1" cy="1195.2" r="14.60"/>
<circle cx="330.8" cy="1195.2" r="14.60"/>
<circle cx="317.5" cy="1195.2" r="14.60"/>
<circle cx="304.3" cy="1195.1" r="14.60"/>
<circle cx="291.0" cy="1195.1" r="14.60"/>
<circle cx="277.8" cy="1195.1" r="14.60"/>
<circle cx="264.5" cy="1195.0" r="14.60"/>
<circle cx="251.3" cy="1194.9" r="14.60"/>
<circle cx="238.0" cy="1194.8" r="14.60"/>
<circle cx="224.8" cy="1194.6" r="14.60"/>
<circle cx="211.5" cy="1194.4" r="14.60"/>
<polyline points="214.0,1201.4 216.0,1201.3 218.0,1201.3 220.0,1201.2 222.0,1201.1 224.0,1201.1 226.0,1201.0 228.0,1200.9 229.9,1200.9 231.9,1200.8 233.9,1200.7 235.9,1200.6 237.9,1200.5 239.9,1200.5 241.9,1200.4 243.9,1200.3 245.9,1200.2 247.9,1200.1 249.9,1200.0 251.9,1199.9 253.9,1199.8 255.9,1199.7 257.9,1199.6 259.8,1199.5 261.8,1199.4 263.8,1199.3 265.8,1199.2 267.8,1199.1 269.8,1199.0 271.8,1198.9 273.8,1198.7 275.8,1198.6 277.8,1198.5 279.8,1198.4 281.8,1198.2 283.8,1198.1 285.8,1198.0 287.7,1197.8 289.7,1197.7 291.7,1197.6 293.7,1197.4 295.7,1197.3 297.7,1197.1 299.7,1196.9 301.7,1196.8 303.7,1196.6 305.7,1196.5 307.7,1196.3 309.7,1196.1 311.7,1195.9 313.7,1195.8 315.7,1195.6 317.6,1195.4 319.6,1195.2 321.6,1195.0 323.6,1194.8 325.6,1194.6 327.6,1194.4 329.6,1194.2 331.6,1194.0 333.6,1193.7 335.6,1193.5 337.6,1193.3 339.6,1193.0 341.6,1192.8 343.6,1192.5 345.6,1192.3 347.5,1192.0 349.5,1191.8 351.5,1191.5 353.5,1191.2 355.5,1190.9 357.5,1190.7 359.5,1190.4 361.5,1190.1 363.5,1189.8 365.5,1189.5 367.5,1189.1 369.5,1188.8 371.5,1188.5 373.5,1188.1 375.5,1187.8 377.4,1187.4 379.4,1187.1 381.4,1186.7 383.4,1186.3 385.4,1185.9 387.4,1185.6 389.4,1185.2 391.4,1184.7 393.4,1184.3 395.4,1183.9 397.4,1183.5 399.4,1183.0 401.4,1182.6 403.4,1182.1 405.4,1181.6 407.3,1181.1 409.3,1180.6 411.3,1180.1 413.3,1179.6 415.3,1179.1 417.3,1178.6 419.3,1178.0 421.3,1177.5 423.3,1176.9 425.3,1176.3 427.3,1175.7 429.3,1175.1 431.3,1174.5 433.3,1173.8 435.2,1173.2 437.2,1172.5 439.2,1171.8 441.2,1171.2 443.2,1170.4 445.2,1169.7 447.2,1169.0 449.2,1168.2 451.2,1167.5 453.2,1166.7 455.2,1165.9 457.2,1165.1 459.2,1164.2 461.2,1163.4 463.2,1162.5 465.1,1161.6 467.1,1160.7 469.1,1159.8 471.1,1158.9 473.1,1157.9 475.1,1156.9 477.1,1155.9 479.1,1154.9 481.1,1153.8 483.1,1152.7 485.1,1151.7 487.1,1150.5 489.1,1149.4 491.1,1148.2 493.1,1147.1 495.0,1145.8 497.0,1144.6 499.0,1143.3 501.0,1142.1 503.0,1140.7 505.0,1139.4 507.0,1138.0 509.0,1136.6 511.0,1135.2 513.0,1133.7 515.0,1132.3 517.0,1130.7 519.0,1129.2 521.0,1127.6 523.0,1126.0 524.9,1124.4 526.9,1122.7 528.9,1121.0 530.9,1119.2 532.9,1117.5 534.9,1115.7 536.9,1113.8 538.9,1111.9 540.9,1110.0 542.9,1108.0 544.9,1106.0 546.9,1104.0 548.9,1101.9 550.9,1099.8 552.8,1097.7 554.8,1095.5 556.8,1093.2 558.8,1091.0 560.8,1088.6 562.8,1086.3 564.8,1083.9 566.8,1081.4 568.8,1078.9 570.8,1076.4 572.8,1073.8 574.8,1071.2 576.8,1068.5 578.8,1065.8 580.8,1063.1 582.7,1060.3 584.7,1057.5 586.7,1054.6 588.7,1051.7 590.7,1048.7 592.7,1045.7 594.7,1042.7 596.7,1039.6 598.7,1036.5 600.7,1033.3 602.7,1030.1 604.7,1026.9 606.7,1023.6 608.7,1020.4 610.7,1017.0 612.6,1013.7 614.6,1010.3 616.6,1006.9 618.6,1003.5 620.6,1000.1 622.6,996.7 624.6,993.2 626.6,989.8 628.6,986.3 630.6,982.9 632.6,979.4 634.6,976.0 636.6,972.6 638.6,969.3 640.6,965.9 642.5,962.6 644.5,959.4 646.5,956.2 648.5,953.0 650.5,949.9 652.5,946.9 654.5,944.0 656.5,941.2 658.5,938.4 660.5,935.8 662.5,933.3 664.5,930.9 666.5,928.7 668.5,926.6 670.5,924.6 672.4,922.8 674.4,921.2 676.4,919.8 678.4,918.5 680.4,917.4 682.4,916.5 684.4,915.9 686.4,915.4 688.4,915.1 690.4,915.1 692.4,915.3 694.4,915.7 696.4,916.3 698.4,917.2 700.3,918.3 702.3,919.6 704.3,921.1 706.3,922.9 708.3,924.8 710.3,927.0 712.3,929.4 714.3,932.0 716.3,934.8 718.3,937.8 720.3,941.0 722.3,944.3 724.3,947.8 726.3,951.5 728.3,955.2 730.2,959.2 732.2,963.2 734.2,967.3 736.2,971.6 738.2,975.9 740.2,980.3 742.2,984.7 744.2,989.2 746.2,993.8 748.2,998.4 750.2,1003.0 752.2,1007.6 754.2,1012.2 756.2,1016.9 758.2,1021.5 760.1,1026.0 762.1,1030.6 764.1,1035.1 766.1,1039.6 768.1,1044.0 770.1,1048.4 772.1,1052.7 774.1,1057.0 776.1,1061.2 778.1,1065.3 780.1,1069.4 782.1,1073.3 784.1,1077.2 786.1,1081.1 788.1,1084.8 790.0,1088.5 792.0,1092.0 794.0,1095.5 796.0,1098.9 798.0,1102.3 800.0,1105.5 802.0,1108.7 804.0,1111.8 806.0,1114.8 808.0,1117.7 810.0,1120.5 812.0,1123.2 814.0,1125.9 816.0,1128.5 817.9,1131.0 819.9,1133.4 821.9,1135.8 823.9,1138.2 825.9,1140.5 827.9,1142.9 829.9,1145.2 831.9,1147.4 833.9,1149.6 835.9,1151.8 837.9,1154.0 839.9,1156.1 841.9,1158.1 843.9,1160.2 845.9,1162.2 847.8,1164.1 849.8,1166.0 851.8,1167.8 853.8,1169.6 855.8,1171.3 857.8,1173.0 859.8,1174.6 861.8,1176.2 863.8,1177.7 865.8,1179.1 867.8,1180.5 869.8,1181.8 871.8,1183.0 873.8,1184.2 875.8,1185.3 877.7,1186.3 879.7,1187.3 881.7,1188.2 883.7,1189.0 885.7,1189.8 887.7,1190.6 889.7,1191.3 891.7,1192.0 893.7,1192.6 895.7,1193.2 897.7,1193.7 899.7,1194.2 901.7,1194.6 903.7,1195.1 905.7,1195.5 907.6,1195.8 909.6,1196.2 911.6,1196.5 913.6,1196.7 915.6,1197.0 917.6,1197.2 919.6,1197.5 921.6,1197.7 923.6,1197.8 925.6,1198.0 927.6,1198.2 929.6,1198.3 931.6,1198.4 933.6,1198.6 935.6,1198.7 937.5,1198.8 939.5,1198.9 941.5,1198.9 943.5,1199.0 945.5,1199.1 947.5,1199.1 949.5,1199.2 951.5,1199.2 953.5,1199.3 955.5,1199.3 957.5,1199.4 959.5,1199.4 961.5,1199.4 963.5,1199.5 965.4,1199.5 967.4,1199.5 969.4,1199.5 971.4,1199.5 973.4,1199.5 975.4,1199.6 977.4,1199.6 979.4,1199.6 981.4,1199.6 983.4,1199.6 985.4,1199.6 987.4,1199.6 989.4,1199.6 991.4,1199.6 993.4,1199.6 995.3,1199.6 997.3,1199.6 999.3,1199.6 1001.3,1199.6 1003.3,1199.6 1005.3,1199.6 1007.3,1199.6 1009.3,1199.6" fill="none" stroke-width="8.50" stroke-linejoin="round" stroke-linecap="round"/>
</g>
<g stroke="#000" stroke-width="3.30" fill="none">
<line x1="174.1" y1="1226.8" x2="174.1" y2="1216.3"/>
<line x1="184.6" y1="1226.8" x2="184.6" y2="1216.3"/>
<line x1="193.5" y1="1226.8" x2="193.5" y2="1216.3"/>
<line x1="201.2" y1="1226.8" x2="201.2" y2="1216.3"/>
<line x1="207.9" y1="1226.8" x2="207.9" y2="1216.3"/>
<line x1="214.0" y1="1226.8" x2="214.0" y2="1205.8"/>
<line x1="253.9" y1="1226.8" x2="253.9" y2="1216.3"/>
<line x1="277.2" y1="1226.8" x2="277.2" y2="1216.3"/>
<line x1="293.8" y1="1226.8" x2="293.8" y2="1216.3"/>
<line x1="306.6" y1="1226.8" x2="306.6" y2="1216.3"/>
<line x1="317.1" y1="1226.8" x2="317.1" y2="1216.3"/>
<line x1="326.0" y1="1226.8" x2="326.0" y2="1216.3"/>
<line x1="333.7" y1="1226.8" x2="333.7" y2="1216.3"/>
<line x1="340.5" y1="1226.8" x2="340.5" y2="1216.3"/>
<line x1="346.6" y1="1226.8" x2="346.6" y2="1205.8"/>
<line x1="386.5" y1="1226.8" x2="386.5" y2="1216.3"/>
<line x1="409.8" y1="1226.8" x2="409.8" y2="1216.3"/>
<line x1="426.4" y1="1226.8" x2="426.4" y2="1216.3"/>
<line x1="439.2" y1="1226.8" x2="439.2" y2="1216.3"/>
<line x1="449.7" y1="1226.8" x2="449.7" y2="1216.3"/>
<line x1="458.6" y1="1226.8" x2="458.6" y2="1216.3"/>
<line x1="466.3" y1="1226.8" x2="466.3" y2="1216.3"/>
<line x1="473.0" y1="1226.8" x2="473.0" y2="1216.3"/>
<line x1="479.1" y1="1226.8" x2="479.1" y2="1205.8"/>
<line x1="519.0" y1="1226.8" x2="519.0" y2="1216.3"/>
<line x1="542.3" y1="1226.8" x2="542.3" y2="1216.3"/>
<line x1="558.9" y1="1226.8" x2="558.9" y2="1216.3"/>
<line x1="571.7" y1="1226.8" x2="571.7" y2="1216.3"/>
<line x1="582.2" y1="1226.8" x2="582.2" y2="1216.3"/>
<line x1="591.1" y1="1226.8" x2="591.1" y2="1216.3"/>
<line x1="598.8" y1="1226.8" x2="598.8" y2="1216.3"/>
<line x1="605.6" y1="1226.8" x2="605.6" y2="1216.3"/>
<line x1="611.7" y1="1226.8" x2="611.7" y2="1205.8"/>
<line x1="651.6" y1="1226.8" x2="651.6" y2="1216.3"/>
<line x1="674.9" y1="1226.8" x2="674.9" y2="1216.3"/>
<line x1="691.5" y1="1226.8" x2="691.5" y2="1216.3"/>
<line x1="704.3" y1="1226.8" x2="704.3" y2="1216.3"/>
<line x1="714.8" y1="1226.8" x2="714.8" y2="1216.3"/>
<line x1="723.7" y1="1226.8" x2="723.7" y2="1216.3"/>
<line x1="731.4" y1="1226.8" x2="731.4" y2="1216.3"/>
<line x1="738.1" y1="1226.8" x2="738.1" y2="1216.3"/>
<line x1="744.2" y1="1226.8" x2="744.2" y2="1205.8"/>
<line x1="784.1" y1="1226.8" x2="784.1" y2="1216.3"/>
<line x1="807.4" y1="1226.8" x2="807.4" y2="1216.3"/>
<line x1="824.0" y1="1226.8" x2="824.0" y2="1216.3"/>
<line x1="836.8" y1="1226.8" x2="836.8" y2="1216.3"/>
<line x1="847.3" y1="1226.8" x2="847.3" y2="1216.3"/>
<line x1="856.2" y1="1226.8" x2="856.2" y2="1216.3"/>
<line x1="863.9" y1="1226.8" x2="863.9" y2="1216.3"/>
<line x1="870.7" y1="1226.8" x2="870.7" y2="1216.3"/>
<line x1="876.8" y1="1226.8" x2="876.8" y2="1205.8"/>
<line x1="916.7" y1="1226.8" x2="916.7" y2="1216.3"/>
<line x1="940.0" y1="1226.8" x2="940.0" y2="1216.3"/>
<line x1="956.6" y1="1226.8" x2="956.6" y2="1216.3"/>
<line x1="969.4" y1="1226.8" x2="969.4" y2="1216.3"/>
<line x1="979.9" y1="1226.8" x2="979.9" y2="1216.3"/>
<line x1="988.8" y1="1226.8" x2="988.8" y2="1216.3"/>
<line x1="996.5" y1="1226.8" x2="996.5" y2="1216.3"/>
<line x1="1003.2" y1="1226.8" x2="1003.2" y2="1216.3"/>
<line x1="1009.3" y1="1226.8" x2="1009.3" y2="1205.8"/>
<line x1="174.3" y1="1051.1" x2="195.3" y2="1051.1"/><line x1="1010.0" y1="1051.1" x2="989.0" y2="1051.1"/>
<line x1="174.3" y1="875.3" x2="195.3" y2="875.3"/><line x1="1010.0" y1="875.3" x2="989.0" y2="875.3"/>
<line x1="174.3" y1="1138.9" x2="184.8" y2="1138.9"/><line x1="1010.0" y1="1138.9" x2="999.5" y2="1138.9"/>
<line x1="174.3" y1="963.2" x2="184.8" y2="963.2"/><line x1="1010.0" y1="963.2" x2="999.5" y2="963.2"/>
</g>
<rect x="174.3" y="831.4" width="835.7" height="395.4" fill="none" stroke="#000" stroke-width="4.20"/>
<text x="153.5" y="1241.2" font-family="'Liberation Serif', 'Times New Roman', serif" font-weight="bold" font-size="49.0" text-anchor="end">0</text>
<text x="153.5" y="1065.5" font-family="'Liberation Serif', 'Times New Roman', serif" font-weight="bold" font-size="49.0" text-anchor="end">4</text>
<text x="153.5" y="889.7" font-family="'Liberation Serif', 'Times New Roman', serif" font-weight="bold" font-size="49.0" text-anchor="end">8</text>
<clipPath id="c_bt"><rect x="1274.0" y="32.0" width="887.5" height="420.0"/></clipPath>
<g clip-path="url(#c_bt)" fill="none" stroke="#000" stroke-width="4.70">
<circle cx="2087.2" cy="313.3" r="14.60"/>
<circle cx="2070.7" cy="286.5" r="14.60"/>
<circle cx="2057.8" cy="259.1" r="14.60"/>
<circle cx="2043.6" cy="235.5" r="14.60"/>
<circle cx="2027.2" cy="213.1" r="14.60"/>
<circle cx="2017.7" cy="176.8" r="14.60"/>
<circle cx="2001.2" cy="157.8" r="14.60"/>
<circle cx="1988.2" cy="139.9" r="14.60"/>
<circle cx="1975.4" cy="122.4" r="14.60"/>
<circle cx="1961.1" cy="147.2" r="14.60"/>
<circle cx="1945.9" cy="141.0" r="14.60"/>
<circle cx="1934.0" cy="175.7" r="14.60"/>
<circle cx="1918.8" cy="200.3" r="14.60"/>
<circle cx="1903.5" cy="223.8" r="14.60"/>
<circle cx="1888.1" cy="249.6" r="14.60"/>
<circle cx="1874.0" cy="269.7" r="14.60"/>
<circle cx="1859.9" cy="288.7" r="14.60"/>
<circle cx="1845.8" cy="311.1" r="14.60"/>
<circle cx="1831.6" cy="326.8" r="14.60"/>
<circle cx="1817.5" cy="341.3" r="14.60"/>
<circle cx="1804.5" cy="353.1" r="14.60"/>
<circle cx="1791.8" cy="363.0" r="14.60"/>
<circle cx="1777.7" cy="372.2" r="14.60"/>
<circle cx="1763.5" cy="381.5" r="14.60"/>
<circle cx="1749.4" cy="387.8" r="14.60"/>
<circle cx="1735.3" cy="392.9" r="14.60"/>
<circle cx="1721.2" cy="396.5" r="14.60"/>
<circle cx="1707.1" cy="400.0" r="14.60"/>
<circle cx="1692.9" cy="403.5" r="14.60"/>
<circle cx="1678.8" cy="406.6" r="14.60"/>
<circle cx="1664.7" cy="409.1" r="14.60"/>
<circle cx="1650.6" cy="411.5" r="14.60"/>
<circle cx="1636.5" cy="413.5" r="14.60"/>
<circle cx="1622.3" cy="414.8" r="14.60"/>
<circle cx="1608.2" cy="415.4" r="14.60"/>
<circle cx="1594.1" cy="415.8" r="14.60"/>
<circle cx="1580.0" cy="416.1" r="14.60"/>
<circle cx="1565.9" cy="416.5" r="14.60"/>
<circle cx="1551.7" cy="416.9" r="14.60"/>
<circle cx="1537.6" cy="417.3" r="14.60"/>
<circle cx="1523.5" cy="417.8" r="14.60"/>
<circle cx="1509.4" cy="418.3" r="14.60"/>
<circle cx="1495.3" cy="418.8" r="14.60"/>
<circle cx="1481.1" cy="419.2" r="14.60"/>
<circle cx="1467.0" cy="419.5" r="14.60"/>
<circle cx="1452.9" cy="419.7" r="14.60"/>
<circle cx="1438.8" cy="419.9" r="14.60"/>
<circle cx="1424.7" cy="420.0" r="14.60"/>
<circle cx="1410.5" cy="420.2" r="14.60"/>
<circle cx="1396.4" cy="420.3" r="14.60"/>
<circle cx="1382.3" cy="420.4" r="14.60"/>
<circle cx="1368.2" cy="420.5" r="14.60"/>
<circle cx="1354.1" cy="420.6" r="14.60"/>
<circle cx="1339.9" cy="420.7" r="14.60"/>
<circle cx="1325.8" cy="420.7" r="14.60"/>
<circle cx="1311.7" cy="420.8" r="14.60"/>
<polyline points="1315.7,418.2 1317.8,418.2 1319.9,418.2 1322.1,418.2 1324.2,418.2 1326.3,418.2 1328.4,418.2 1330.6,418.2 1332.7,418.2 1334.8,418.2 1336.9,418.2 1339.1,418.2 1341.2,418.2 1343.3,418.2 1345.4,418.2 1347.5,418.2 1349.7,418.2 1351.8,418.2 1353.9,418.2 1356.0,418.2 1358.2,418.2 1360.3,418.2 1362.4,418.2 1364.5,418.2 1366.7,418.2 1368.8,418.2 1370.9,418.2 1373.0,418.2 1375.2,418.2 1377.3,418.2 1379.4,418.1 1381.5,418.1 1383.6,418.1 1385.8,418.1 1387.9,418.1 1390.0,418.1 1392.1,418.1 1394.3,418.1 1396.4,418.1 1398.5,418.1 1400.6,418.1 1402.8,418.1 1404.9,418.1 1407.0,418.1 1409.1,418.1 1411.2,418.1 1413.4,418.1 1415.5,418.0 1417.6,418.0 1419.7,418.0 1421.9,418.0 1424.0,418.0 1426.1,418.0 1428.2,418.0 1430.4,418.0 1432.5,418.0 1434.6,418.0 1436.7,418.0 1438.9,417.9 1441.0,417.9 1443.1,417.9 1445.2,417.9 1447.3,417.9 1449.5,417.9 1451.6,417.9 1453.7,417.9 1455.8,417.8 1458.0,417.8 1460.1,417.8 1462.2,417.8 1464.3,417.8 1466.5,417.8 1468.6,417.8 1470.7,417.7 1472.8,417.7 1474.9,417.7 1477.1,417.7 1479.2,417.7 1481.3,417.7 1483.4,417.6 1485.6,417.6 1487.7,417.6 1489.8,417.6 1491.9,417.5 1494.1,417.5 1496.2,417.5 1498.3,417.5 1500.4,417.5 1502.6,417.4 1504.7,417.4 1506.8,417.4 1508.9,417.3 1511.0,417.3 1513.2,417.3 1515.3,417.3 1517.4,417.2 1519.5,417.2 1521.7,417.2 1523.8,417.1 1525.9,417.1 1528.0,417.1 1530.2,417.0 1532.3,417.0 1534.4,416.9 1536.5,416.9 1538.6,416.9 1540.8,416.8 1542.9,416.8 1545.0,416.7 1547.1,416.7 1549.3,416.6 1551.4,416.6 1553.5,416.5 1555.6,416.5 1557.8,416.4 1559.9,416.3 1562.0,416.3 1564.1,416.2 1566.3,416.2 1568.4,416.1 1570.5,416.0 1572.6,416.0 1574.7,415.9 1576.9,415.8 1579.0,415.7 1581.1,415.7 1583.2,415.6 1585.4,415.5 1587.5,415.4 1589.6,415.3 1591.7,415.2 1593.9,415.2 1596.0,415.1 1598.1,415.0 1600.2,414.9 1602.3,414.8 1604.5,414.7 1606.6,414.5 1608.7,414.4 1610.8,414.3 1613.0,414.2 1615.1,414.1 1617.2,413.9 1619.3,413.8 1621.5,413.7 1623.6,413.5 1625.7,413.4 1627.8,413.2 1629.9,413.1 1632.1,412.9 1634.2,412.8 1636.3,412.6 1638.4,412.4 1640.6,412.3 1642.7,412.1 1644.8,411.9 1646.9,411.7 1649.1,411.5 1651.2,411.3 1653.3,411.1 1655.4,410.9 1657.6,410.6 1659.7,410.4 1661.8,410.2 1663.9,409.9 1666.0,409.7 1668.2,409.4 1670.3,409.1 1672.4,408.9 1674.5,408.6 1676.7,408.3 1678.8,408.0 1680.9,407.7 1683.0,407.4 1685.2,407.0 1687.3,406.7 1689.4,406.3 1691.5,406.0 1693.6,405.6 1695.8,405.2 1697.9,404.8 1700.0,404.4 1702.1,404.0 1704.3,403.6 1706.4,403.1 1708.5,402.7 1710.6,402.2 1712.8,401.7 1714.9,401.2 1717.0,400.7 1719.1,400.2 1721.3,399.6 1723.4,399.1 1725.5,398.5 1727.6,397.9 1729.7,397.3 1731.9,396.7 1734.0,396.0 1736.1,395.3 1738.2,394.7 1740.4,393.9 1742.5,393.2 1744.6,392.5 1746.7,391.7 1748.9,390.9 1751.0,390.1 1753.1,389.2 1755.2,388.4 1757.3,387.5 1759.5,386.5 1761.6,385.6 1763.7,384.6 1765.8,383.6 1768.0,382.6 1770.1,381.5 1772.2,380.4 1774.3,379.3 1776.5,378.1 1778.6,376.9 1780.7,375.7 1782.8,374.5 1785.0,373.2 1787.1,371.8 1789.2,370.4 1791.3,369.0 1793.4,367.6 1795.6,366.1 1797.7,364.5 1799.8,363.0 1801.9,361.3 1804.1,359.7 1806.2,358.0 1808.3,356.2 1810.4,354.4 1812.6,352.5 1814.7,350.6 1816.8,348.7 1818.9,346.7 1821.0,344.6 1823.2,342.5 1825.3,340.3 1827.4,338.1 1829.5,335.8 1831.7,333.5 1833.8,331.1 1835.9,328.6 1838.0,326.1 1840.2,323.5 1842.3,320.8 1844.4,318.1 1846.5,315.4 1848.7,312.5 1850.8,309.7 1852.9,306.7 1855.0,303.7 1857.1,300.6 1859.3,297.5 1861.4,294.3 1863.5,291.0 1865.6,287.7 1867.8,284.3 1869.9,280.8 1872.0,277.3 1874.1,273.8 1876.3,270.2 1878.4,266.5 1880.5,262.8 1882.6,259.0 1884.7,255.2 1886.9,251.4 1889.0,247.5 1891.1,243.6 1893.2,239.7 1895.4,235.7 1897.5,231.7 1899.6,227.7 1901.7,223.7 1903.9,219.7 1906.0,215.7 1908.1,211.7 1910.2,207.8 1912.3,203.8 1914.5,199.9 1916.6,196.0 1918.7,192.2 1920.8,188.5 1923.0,184.8 1925.1,181.1 1927.2,177.6 1929.3,174.2 1931.5,170.8 1933.6,167.6 1935.7,164.5 1937.8,161.6 1940.0,158.7 1942.1,156.0 1944.2,153.5 1946.3,151.1 1948.4,148.9 1950.6,146.9 1952.7,145.1 1954.8,143.4 1956.9,142.0 1959.1,140.7 1961.2,139.6 1963.3,138.8 1965.4,138.1 1967.6,137.7 1969.7,137.5 1971.8,137.4 1973.9,137.6 1976.0,138.0 1978.2,138.6 1980.3,139.4 1982.4,140.4 1984.5,141.6 1986.7,142.9 1988.8,144.5 1990.9,146.2 1993.0,148.1 1995.2,150.2 1997.3,152.4 1999.4,154.7 2001.5,157.2 2003.7,159.8 2005.8,162.6 2007.9,165.4 2010.0,168.4 2012.1,171.5 2014.3,174.6 2016.4,177.9 2018.5,181.2 2020.6,184.6 2022.8,188.0 2024.9,191.5 2027.0,195.0 2029.1,198.6 2031.3,202.2 2033.4,205.8 2035.5,209.4 2037.6,213.0 2039.7,216.7 2041.9,220.3 2044.0,224.0 2046.1,227.6 2048.2,231.2 2050.4,234.8 2052.5,238.4 2054.6,242.0 2056.7,245.5 2058.9,249.0 2061.0,252.4 2063.1,255.9 2065.2,259.2 2067.4,262.6 2069.5,265.9 2071.6,269.1 2073.7,272.4 2075.8,275.5 2078.0,278.6 2080.1,281.7 2082.2,284.7 2084.3,287.7 2086.5,290.6 2088.6,293.5 2090.7,296.3 2092.8,299.1 2095.0,301.8 2097.1,304.5 2099.2,307.1 2101.3,309.6 2103.4,312.2 2105.6,314.6 2107.7,317.0 2109.8,319.4 2111.9,321.7 2114.1,324.0 2116.2,326.2 2118.3,328.4 2120.4,330.5 2122.6,332.6 2124.7,334.6 2126.8,336.6 2128.9,338.6 2131.1,340.5 2133.2,342.3 2135.3,344.1 2137.4,345.9 2139.5,347.7 2141.7,349.4 2143.8,351.0 2145.9,352.6 2148.0,354.2 2150.2,355.8 2152.3,357.3 2154.4,358.8 2156.5,360.2 2158.7,361.6 2160.8,363.0 2162.9,364.3" fill="none" stroke-width="8.50" stroke-linejoin="round" stroke-linecap="round"/>
</g>
<g stroke="#000" stroke-width="3.30" fill="none">
<line x1="1273.2" y1="452.0" x2="1273.2" y2="441.5"/>
<line x1="1273.2" y1="32.0" x2="1273.2" y2="42.5"/>
<line x1="1284.4" y1="452.0" x2="1284.4" y2="441.5"/>
<line x1="1284.4" y1="32.0" x2="1284.4" y2="42.5"/>
<line x1="1293.8" y1="452.0" x2="1293.8" y2="441.5"/>
<line x1="1293.8" y1="32.0" x2="1293.8" y2="42.5"/>
<line x1="1302.0" y1="452.0" x2="1302.0" y2="441.5"/>
<line x1="1302.0" y1="32.0" x2="1302.0" y2="42.5"/>
<line x1="1309.2" y1="452.0" x2="1309.2" y2="441.5"/>
<line x1="1309.2" y1="32.0" x2="1309.2" y2="42.5"/>
<line x1="1315.7" y1="452.0" x2="1315.7" y2="431.0"/>
<line x1="1315.7" y1="32.0" x2="1315.7" y2="53.0"/>
<line x1="1358.2" y1="452.0" x2="1358.2" y2="441.5"/>
<line x1="1358.2" y1="32.0" x2="1358.2" y2="42.5"/>
<line x1="1383.1" y1="452.0" x2="1383.1" y2="441.5"/>
<line x1="1383.1" y1="32.0" x2="1383.1" y2="42.5"/>
<line x1="1400.7" y1="452.0" x2="1400.7" y2="441.5"/>
<line x1="1400.7" y1="32.0" x2="1400.7" y2="42.5"/>
<line x1="1414.4" y1="452.0" x2="1414.4" y2="441.5"/>
<line x1="1414.4" y1="32.0" x2="1414.4" y2="42.5"/>
<line x1="1425.6" y1="452.0" x2="1425.6" y2="441.5"/>
<line x1="1425.6" y1="32.0" x2="1425.6" y2="42.5"/>
<line x1="1435.0" y1="452.0" x2="1435.0" y2="441.5"/>
<line x1="1435.0" y1="32.0" x2="1435.0" y2="42.5"/>
<line x1="1443.2" y1="452.0" x2="1443.2" y2="441.5"/>
<line x1="1443.2" y1="32.0" x2="1443.2" y2="42.5"/>
<line x1="1450.4" y1="452.0" x2="1450.4" y2="441.5"/>
<line x1="1450.4" y1="32.0" x2="1450.4" y2="42.5"/>
<line x1="1456.9" y1="452.0" x2="1456.9" y2="431.0"/>
<line x1="1456.9" y1="32.0" x2="1456.9" y2="53.0"/>
<line x1="1499.4" y1="452.0" x2="1499.4" y2="441.5"/>
<line x1="1499.4" y1="32.0" x2="1499.4" y2="42.5"/>
<line x1="1524.3" y1="452.0" x2="1524.3" y2="441.5"/>
<line x1="1524.3" y1="32.0" x2="1524.3" y2="42.5"/>
<line x1="1541.9" y1="452.0" x2="1541.9" y2="441.5"/>
<line x1="1541.9" y1="32.0" x2="1541.9" y2="42.5"/>
<line x1="1555.6" y1="452.0" x2="1555.6" y2="441.5"/>
<line x1="1555.6" y1="32.0" x2="1555.6" y2="42.5"/>
<line x1="1566.8" y1="452.0" x2="1566.8" y2="441.5"/>
<line x1="1566.8" y1="32.0" x2="1566.8" y2="42.5"/>
<line x1="1576.2" y1="452.0" x2="1576.2" y2="441.5"/>
<line x1="1576.2" y1="32.0" x2="1576.2" y2="42.5"/>
<line x1="1584.4" y1="452.0" x2="1584.4" y2="441.5"/>
<line x1="1584.4" y1="32.0" x2="1584.4" y2="42.5"/>
<line x1="1591.6" y1="452.0" x2="1591.6" y2="441.5"/>
<line x1="1591.6" y1="32.0" x2="1591.6" y2="42.5"/>
<line x1="1598.1" y1="452.0" x2="1598.1" y2="431.0"/>
<line x1="1598.1" y1="32.0" x2="1598.1" y2="53.0"/>
<line x1="1640.6" y1="452.0" x2="1640.6" y2="441.5"/>
<line x1="1640.6" y1="32.0" x2="1640.6" y2="42.5"/>
<line x1="1665.5" y1="452.0" x2="1665.5" y2="441.5"/>
<line x1="1665.5" y1="32.0" x2="1665.5" y2="42.5"/>
<line x1="1683.1" y1="452.0" x2="1683.1" y2="441.5"/>
<line x1="1683.1" y1="32.0" x2="1683.1" y2="42.5"/>
<line x1="1696.8" y1="452.0" x2="1696.8" y2="441.5"/>
<line x1="1696.8" y1="32.0" x2="1696.8" y2="42.5"/>
<line x1="1708.0" y1="452.0" x2="1708.0" y2="441.5"/>
<line x1="1708.0" y1="32.0" x2="1708.0" y2="42.5"/>
<line x1="1717.4" y1="452.0" x2="1717.4" y2="441.5"/>
<line x1="1717.4" y1="32.0" x2="1717.4" y2="42.5"/>
<line x1="1725.6" y1="452.0" x2="1725.6" y2="441.5"/>
<line x1="1725.6" y1="32.0" x2="1725.6" y2="42.5"/>
<line x1="1732.8" y1="452.0" x2="1732.8" y2="441.5"/>
<line x1="1732.8" y1="32.0" x2="1732.8" y2="42.5"/>
<line x1="1739.3" y1="452.0" x2="1739.3" y2="431.0"/>
<line x1="1739.3" y1="32.0" x2="1739.3" y2="53.0"/>
<line x1="1781.8" y1="452.0" x2="1781.8" y2="441.5"/>
<line x1="1781.8" y1="32.0" x2="1781.8" y2="42.5"/>
<line x1="1806.7" y1="452.0" x2="1806.7" y2="441.5"/>
<line x1="1806.7" y1="32.0" x2="1806.7" y2="42.5"/>
<line x1="1824.3" y1="452.0" x2="1824.3" y2="441.5"/>
<line x1="1824.3" y1="32.0" x2="1824.3" y2="42.5"/>
<line x1="1838.0" y1="452.0" x2="1838.0" y2="441.5"/>
<line x1="1838.0" y1="32.0" x2="1838.0" y2="42.5"/>
<line x1="1849.2" y1="452.0" x2="1849.2" y2="441.5"/>
<line x1="1849.2" y1="32.0" x2="1849.2" y2="42.5"/>
<line x1="1858.6" y1="452.0" x2="1858.6" y2="441.5"/>
<line x1="1858.6" y1="32.0" x2="1858.6" y2="42.5"/>
<line x1="1866.8" y1="452.0" x2="1866.8" y2="441.5"/>
<line x1="1866.8" y1="32.0" x2="1866.8" y2="42.5"/>
<line x1="1874.0" y1="452.0" x2="1874.0" y2="441.5"/>
<line x1="1874.0" y1="32.0" x2="1874.0" y2="42.5"/>
<line x1="1880.5" y1="452.0" x2="1880.5" y2="431.0"/>
<line x1="1880.5" y1="32.0" x2="1880.5" y2="53.0"/>
<line x1="1923.0" y1="452.0" x2="1923.0" y2="441.5"/>
<line x1="1923.0" y1="32.0" x2="1923.0" y2="42.5"/>
<line x1="1947.9" y1="452.0" x2="1947.9" y2="441.5"/>
<line x1="1947.9" y1="32.0" x2="1947.9" y2="42.5"/>
<line x1="1965.5" y1="452.0" x2="1965.5" y2="441.5"/>
<line x1="1965.5" y1="32.0" x2="1965.5" y2="42.5"/>
<line x1="1979.2" y1="452.0" x2="1979.2" y2="441.5"/>
<line x1="1979.2" y1="32.0" x2="1979.2" y2="42.5"/>
<line x1="1990.4" y1="452.0" x2="1990.4" y2="441.5"/>
<line x1="1990.4" y1="32.0" x2="1990.4" y2="42.5"/>
<line x1="1999.8" y1="452.0" x2="1999.8" y2="441.5"/>
<line x1="1999.8" y1="32.0" x2="1999.8" y2="42.5"/>
<line x1="2008.0" y1="452.0" x2="2008.0" y2="441.5"/>
<line x1="2008.0" y1="32.0" x2="2008.0" y2="42.5"/>
<line x1="2015.2" y1="452.0" x2="2015.2" y2="441.5"/>
<line x1="2015.2" y1="32.0" x2="2015.2" y2="42.5"/>
<line x1="2021.7" y1="452.0" x2="2021.7" y2="431.0"/>
<line x1="2021.7" y1="32.0" x2="2021.7" y2="53.0"/>
<line x1="2064.2" y1="452.0" x2="2064.2" y2="441.5"/>
<line x1="2064.2" y1="32.0" x2="2064.2" y2="42.5"/>
<line x1="2089.1" y1="452.0" x2="2089.1" y2="441.5"/>
<line x1="2089.1" y1="32.0" x2="2089.1" y2="42.5"/>
<line x1="2106.7" y1="452.0" x2="2106.7" y2="441.5"/>
<line x1="2106.7" y1="32.0" x2="2106.7" y2="42.5"/>
<line x1="2120.4" y1="452.0" x2="2120.4" y2="441.5"/>
<line x1="2120.4" y1="32.0" x2="2120.4" y2="42.5"/>
<line x1="2131.6" y1="452.0" x2="2131.6" y2="441.5"/>
<line x1="2131.6" y1="32.0" x2="2131.6" y2="42.5"/>
<line x1="2141.0" y1="452.0" x2="2141.0" y2="441.5"/>
<line x1="2141.0" y1="32.0" x2="2141.0" y2="42.5"/>
<line x1="2149.2" y1="452.0" x2="2149.2" y2="441.5"/>
<line x1="2149.2" y1="32.0" x2="2149.2" y2="42.5"/>
<line x1="2156.4" y1="452.0" x2="2156.4" y2="441.5"/>
<line x1="2156.4" y1="32.0" x2="2156.4" y2="42.5"/>
<line x1="2162.9" y1="452.0" x2="2162.9" y2="431.0"/>
<line x1="2162.9" y1="32.0" x2="2162.9" y2="53.0"/>
<line x1="1274.0" y1="423.0" x2="1295.0" y2="423.0"/><line x1="2161.5" y1="423.0" x2="2140.5" y2="423.0"/>
<line x1="1274.0" y1="199.2" x2="1295.0" y2="199.2"/><line x1="2161.5" y1="199.2" x2="2140.5" y2="199.2"/>
<line x1="1274.0" y1="311.1" x2="1284.5" y2="311.1"/><line x1="2161.5" y1="311.1" x2="2151.0" y2="311.1"/>
<line x1="1274.0" y1="87.3" x2="1284.5" y2="87.3"/><line x1="2161.5" y1="87.3" x2="2151.0" y2="87.3"/>
</g>
<rect x="1274.0" y="32.0" width="887.5" height="420.0" fill="none" stroke="#000" stroke-width="4.20"/>
<text x="1251.0" y="438.9" font-family="'Liberation Serif', 'Times New Roman', serif" font-weight="bold" font-size="53.5" text-anchor="end">0</text>
<text x="1251.0" y="215.1" font-family="'Liberation Serif', 'Times New Roman', serif" font-weight="bold" font-size="53.5" text-anchor="end">20</text>
<clipPath id="c_bm"><rect x="1274.0" y="452.0" width="887.5" height="394.70000000000005"/></clipPath>
<g clip-path="url(#c_bm)" fill="#fff" stroke="#000" stroke-width="4.70">
<circle cx="2073.7" cy="523.7" r="14.60"/>
<circle cx="2059.1" cy="597.4" r="14.60"/>
<circle cx="2044.6" cy="638.2" r="14.60"/>
<circle cx="2031.6" cy="666.0" r="14.60"/>
<circle cx="2015.8" cy="684.2" r="14.60"/>
<circle cx="2002.6" cy="710.5" r="14.60"/>
<circle cx="1988.1" cy="724.0" r="14.60"/>
<circle cx="1973.7" cy="747.7" r="14.60"/>
<circle cx="1958.2" cy="755.6" r="14.60"/>
<circle cx="1947.1" cy="762.2" r="14.60"/>
<circle cx="1933.0" cy="769.8" r="14.60"/>
<circle cx="1918.9" cy="776.8" r="14.60"/>
<circle cx="1904.7" cy="782.3" r="14.60"/>
<circle cx="1890.6" cy="786.6" r="14.60"/>
<circle cx="1876.5" cy="790.1" r="14.60"/>
<circle cx="1862.4" cy="793.3" r="14.60"/>
<circle cx="1848.3" cy="796.2" r="14.60"/>
<circle cx="1834.1" cy="798.8" r="14.60"/>
<circle cx="1820.0" cy="801.0" r="14.60"/>
<circle cx="1805.9" cy="802.7" r="14.60"/>
<circle cx="1791.8" cy="804.2" r="14.60"/>
<circle cx="1777.7" cy="805.4" r="14.60"/>
<circle cx="1763.5" cy="806.5" r="14.60"/>
<circle cx="1749.4" cy="807.4" r="14.60"/>
<circle cx="1735.3" cy="808.1" r="14.60"/>
<circle cx="1721.2" cy="808.6" r="14.60"/>
<circle cx="1707.1" cy="809.2" r="14.60"/>
<circle cx="1692.9" cy="809.7" r="14.60"/>
<circle cx="1678.8" cy="810.2" r="14.60"/>
<circle cx="1664.7" cy="810.6" r="14.60"/>
<circle cx="1650.6" cy="810.9" r="14.60"/>
<circle cx="1636.5" cy="811.3" r="14.60"/>
<circle cx="1622.3" cy="811.5" r="14.60"/>
<circle cx="1608.2" cy="811.7" r="14.60"/>
<circle cx="1594.1" cy="811.9" r="14.60"/>
<circle cx="1580.0" cy="812.0" r="14.60"/>
<circle cx="1565.9" cy="812.1" r="14.60"/>
<circle cx="1551.7" cy="812.2" r="14.60"/>
<circle cx="1537.6" cy="812.3" r="14.60"/>
<circle cx="1523.5" cy="812.4" r="14.60"/>
<circle cx="1509.4" cy="812.5" r="14.60"/>
<circle cx="1495.3" cy="812.5" r="14.60"/>
<circle cx="1481.1" cy="812.6" r="14.60"/>
<circle cx="1467.0" cy="812.6" r="14.60"/>
<circle cx="1452.9" cy="812.7" r="14.60"/>
<circle cx="1438.8" cy="812.7" r="14.60"/>
<circle cx="1424.7" cy="812.7" r="14.60"/>
<circle cx="1410.5" cy="812.7" r="14.60"/>
<circle cx="1396.4" cy="812.8" r="14.60"/>
<circle cx="1382.3" cy="812.8" r="14.60"/>
<circle cx="1368.2" cy="812.8" r="14.60"/>
<circle cx="1354.1" cy="812.8" r="14.60"/>
<circle cx="1339.9" cy="812.8" r="14.60"/>
<circle cx="1325.8" cy="812.8" r="14.60"/>
<circle cx="1311.7" cy="812.8" r="14.60"/>
<polyline points="1315.7,812.6 1317.6,812.6 1319.6,812.6 1321.5,812.6 1323.5,812.6 1325.4,812.6 1327.3,812.6 1329.3,812.6 1331.2,812.6 1333.2,812.6 1335.1,812.6 1337.0,812.6 1339.0,812.6 1340.9,812.6 1342.9,812.6 1344.8,812.6 1346.7,812.6 1348.7,812.6 1350.6,812.6 1352.5,812.6 1354.5,812.6 1356.4,812.6 1358.4,812.6 1360.3,812.6 1362.2,812.6 1364.2,812.6 1366.1,812.6 1368.1,812.6 1370.0,812.6 1371.9,812.6 1373.9,812.6 1375.8,812.6 1377.8,812.6 1379.7,812.6 1381.6,812.6 1383.6,812.6 1385.5,812.6 1387.5,812.6 1389.4,812.6 1391.3,812.6 1393.3,812.6 1395.2,812.6 1397.2,812.6 1399.1,812.6 1401.0,812.6 1403.0,812.6 1404.9,812.6 1406.8,812.6 1408.8,812.6 1410.7,812.6 1412.7,812.6 1414.6,812.6 1416.5,812.6 1418.5,812.6 1420.4,812.6 1422.4,812.6 1424.3,812.6 1426.2,812.6 1428.2,812.6 1430.1,812.6 1432.1,812.6 1434.0,812.6 1435.9,812.6 1437.9,812.6 1439.8,812.6 1441.8,812.6 1443.7,812.6 1445.6,812.6 1447.6,812.6 1449.5,812.6 1451.5,812.6 1453.4,812.6 1455.3,812.6 1457.3,812.6 1459.2,812.6 1461.1,812.6 1463.1,812.6 1465.0,812.6 1467.0,812.6 1468.9,812.6 1470.8,812.6 1472.8,812.6 1474.7,812.6 1476.7,812.6 1478.6,812.6 1480.5,812.6 1482.5,812.6 1484.4,812.6 1486.4,812.6 1488.3,812.6 1490.2,812.6 1492.2,812.6 1494.1,812.6 1496.1,812.6 1498.0,812.6 1499.9,812.6 1501.9,812.6 1503.8,812.6 1505.8,812.6 1507.7,812.6 1509.6,812.6 1511.6,812.6 1513.5,812.5 1515.4,812.5 1517.4,812.5 1519.3,812.5 1521.3,812.5 1523.2,812.5 1525.1,812.5 1527.1,812.5 1529.0,812.5 1531.0,812.5 1532.9,812.5 1534.8,812.5 1536.8,812.5 1538.7,812.5 1540.7,812.5 1542.6,812.5 1544.5,812.5 1546.5,812.5 1548.4,812.5 1550.4,812.5 1552.3,812.5 1554.2,812.5 1556.2,812.5 1558.1,812.5 1560.1,812.5 1562.0,812.5 1563.9,812.5 1565.9,812.5 1567.8,812.5 1569.7,812.5 1571.7,812.5 1573.6,812.5 1575.6,812.5 1577.5,812.5 1579.4,812.5 1581.4,812.5 1583.3,812.5 1585.3,812.4 1587.2,812.4 1589.1,812.4 1591.1,812.4 1593.0,812.4 1595.0,812.4 1596.9,812.4 1598.8,812.4 1600.8,812.4 1602.7,812.4 1604.7,812.4 1606.6,812.4 1608.5,812.4 1610.5,812.4 1612.4,812.4 1614.4,812.4 1616.3,812.4 1618.2,812.3 1620.2,812.3 1622.1,812.3 1624.0,812.3 1626.0,812.3 1627.9,812.3 1629.9,812.3 1631.8,812.3 1633.7,812.3 1635.7,812.3 1637.6,812.3 1639.6,812.2 1641.5,812.2 1643.4,812.2 1645.4,812.2 1647.3,812.2 1649.3,812.2 1651.2,812.2 1653.1,812.2 1655.1,812.1 1657.0,812.1 1659.0,812.1 1660.9,812.1 1662.8,812.1 1664.8,812.1 1666.7,812.1 1668.7,812.0 1670.6,812.0 1672.5,812.0 1674.5,812.0 1676.4,812.0 1678.3,811.9 1680.3,811.9 1682.2,811.9 1684.2,811.9 1686.1,811.9 1688.0,811.8 1690.0,811.8 1691.9,811.8 1693.9,811.8 1695.8,811.7 1697.7,811.7 1699.7,811.7 1701.6,811.7 1703.6,811.6 1705.5,811.6 1707.4,811.6 1709.4,811.5 1711.3,811.5 1713.3,811.5 1715.2,811.4 1717.1,811.4 1719.1,811.4 1721.0,811.3 1723.0,811.3 1724.9,811.2 1726.8,811.2 1728.8,811.2 1730.7,811.1 1732.6,811.1 1734.6,811.0 1736.5,811.0 1738.5,810.9 1740.4,810.9 1742.3,810.8 1744.3,810.8 1746.2,810.7 1748.2,810.6 1750.1,810.6 1752.0,810.5 1754.0,810.4 1755.9,810.4 1757.9,810.3 1759.8,810.2 1761.7,810.2 1763.7,810.1 1765.6,810.0 1767.6,809.9 1769.5,809.8 1771.4,809.8 1773.4,809.7 1775.3,809.6 1777.3,809.5 1779.2,809.4 1781.1,809.3 1783.1,809.2 1785.0,809.1 1786.9,809.0 1788.9,808.9 1790.8,808.8 1792.8,808.6 1794.7,808.5 1796.6,808.4 1798.6,808.2 1800.5,808.1 1802.5,808.0 1804.4,807.8 1806.3,807.7 1808.3,807.5 1810.2,807.4 1812.2,807.2 1814.1,807.0 1816.0,806.9 1818.0,806.7 1819.9,806.5 1821.9,806.3 1823.8,806.1 1825.7,805.9 1827.7,805.7 1829.6,805.5 1831.6,805.3 1833.5,805.1 1835.4,804.8 1837.4,804.6 1839.3,804.3 1841.2,804.1 1843.2,803.8 1845.1,803.5 1847.1,803.3 1849.0,803.0 1850.9,802.7 1852.9,802.4 1854.8,802.0 1856.8,801.7 1858.7,801.4 1860.6,801.0 1862.6,800.7 1864.5,800.3 1866.5,799.9 1868.4,799.5 1870.3,799.1 1872.3,798.7 1874.2,798.3 1876.2,797.8 1878.1,797.4 1880.0,796.9 1882.0,796.4 1883.9,795.9 1885.9,795.4 1887.8,794.9 1889.7,794.3 1891.7,793.8 1893.6,793.2 1895.5,792.6 1897.5,792.0 1899.4,791.3 1901.4,790.7 1903.3,790.0 1905.2,789.3 1907.2,788.6 1909.1,787.9 1911.1,787.1 1913.0,786.3 1914.9,785.5 1916.9,784.7 1918.8,783.8 1920.8,782.9 1922.7,782.0 1924.6,781.1 1926.6,780.1 1928.5,779.1 1930.5,778.1 1932.4,777.0 1934.3,775.9 1936.3,774.8 1938.2,773.6 1940.2,772.4 1942.1,771.2 1944.0,770.0 1946.0,768.7 1947.9,767.3 1949.8,765.9 1951.8,764.5 1953.7,763.0 1955.7,761.5 1957.6,760.0 1959.5,758.4 1961.5,756.7 1963.4,755.0 1965.4,753.3 1967.3,751.5 1969.2,749.7 1971.2,747.8 1973.1,745.8 1975.1,743.8 1977.0,741.7 1978.9,739.6 1980.9,737.4 1982.8,735.1 1984.8,732.8 1986.7,730.4 1988.6,728.0 1990.6,725.4 1992.5,722.8 1994.5,720.2 1996.4,717.4 1998.3,714.6 2000.3,711.7 2002.2,708.7 2004.1,705.7 2006.1,702.5 2008.0,699.3 2010.0,696.0 2011.9,692.6 2013.8,689.1 2015.8,685.5 2017.7,681.8 2019.7,678.0 2021.6,674.1 2023.5,670.1 2025.5,666.1 2027.4,661.9 2029.4,657.6 2031.3,653.1 2033.2,648.6 2035.2,644.0 2037.1,639.2 2039.1,634.4 2041.0,629.4 2042.9,624.3 2044.9,619.1 2046.8,613.7 2048.8,608.3 2050.7,602.7 2052.6,597.0 2054.6,591.1 2056.5,585.1 2058.4,579.0 2060.4,572.8 2062.3,566.4 2064.3,559.9 2066.2,553.3 2068.1,546.5 2070.1,539.6 2072.0,532.6 2074.0,525.4 2075.9,518.1 2077.8,510.6 2079.8,503.1 2081.7,495.4 2083.7,487.5 2085.6,479.6 2087.5,471.5 2089.5,463.3" fill="none" stroke-width="8.50" stroke-linejoin="round" stroke-linecap="round"/>
</g>
<g stroke="#000" stroke-width="3.30" fill="none">
<line x1="1273.2" y1="846.7" x2="1273.2" y2="836.2"/>
<line x1="1284.4" y1="846.7" x2="1284.4" y2="836.2"/>
<line x1="1293.8" y1="846.7" x2="1293.8" y2="836.2"/>
<line x1="1302.0" y1="846.7" x2="1302.0" y2="836.2"/>
<line x1="1309.2" y1="846.7" x2="1309.2" y2="836.2"/>
<line x1="1315.7" y1="846.7" x2="1315.7" y2="825.7"/>
<line x1="1358.2" y1="846.7" x2="1358.2" y2="836.2"/>
<line x1="1383.1" y1="846.7" x2="1383.1" y2="836.2"/>
<line x1="1400.7" y1="846.7" x2="1400.7" y2="836.2"/>
<line x1="1414.4" y1="846.7" x2="1414.4" y2="836.2"/>
<line x1="1425.6" y1="846.7" x2="1425.6" y2="836.2"/>
<line x1="1435.0" y1="846.7" x2="1435.0" y2="836.2"/>
<line x1="1443.2" y1="846.7" x2="1443.2" y2="836.2"/>
<line x1="1450.4" y1="846.7" x2="1450.4" y2="836.2"/>
<line x1="1456.9" y1="846.7" x2="1456.9" y2="825.7"/>
<line x1="1499.4" y1="846.7" x2="1499.4" y2="836.2"/>
<line x1="1524.3" y1="846.7" x2="1524.3" y2="836.2"/>
<line x1="1541.9" y1="846.7" x2="1541.9" y2="836.2"/>
<line x1="1555.6" y1="846.7" x2="1555.6" y2="836.2"/>
<line x1="1566.8" y1="846.7" x2="1566.8" y2="836.2"/>
<line x1="1576.2" y1="846.7" x2="1576.2" y2="836.2"/>
<line x1="1584.4" y1="846.7" x2="1584.4" y2="836.2"/>
<line x1="1591.6" y1="846.7" x2="1591.6" y2="836.2"/>
<line x1="1598.1" y1="846.7" x2="1598.1" y2="825.7"/>
<line x1="1640.6" y1="846.7" x2="1640.6" y2="836.2"/>
<line x1="1665.5" y1="846.7" x2="1665.5" y2="836.2"/>
<line x1="1683.1" y1="846.7" x2="1683.1" y2="836.2"/>
<line x1="1696.8" y1="846.7" x2="1696.8" y2="836.2"/>
<line x1="1708.0" y1="846.7" x2="1708.0" y2="836.2"/>
<line x1="1717.4" y1="846.7" x2="1717.4" y2="836.2"/>
<line x1="1725.6" y1="846.7" x2="1725.6" y2="836.2"/>
<line x1="1732.8" y1="846.7" x2="1732.8" y2="836.2"/>
<line x1="1739.3" y1="846.7" x2="1739.3" y2="825.7"/>
<line x1="1781.8" y1="846.7" x2="1781.8" y2="836.2"/>
<line x1="1806.7" y1="846.7" x2="1806.7" y2="836.2"/>
<line x1="1824.3" y1="846.7" x2="1824.3" y2="836.2"/>
<line x1="1838.0" y1="846.7" x2="1838.0" y2="836.2"/>
<line x1="1849.2" y1="846.7" x2="1849.2" y2="836.2"/>
<line x1="1858.6" y1="846.7" x2="1858.6" y2="836.2"/>
<line x1="1866.8" y1="846.7" x2="1866.8" y2="836.2"/>
<line x1="1874.0" y1="846.7" x2="1874.0" y2="836.2"/>
<line x1="1880.5" y1="846.7" x2="1880.5" y2="825.7"/>
<line x1="1923.0" y1="846.7" x2="1923.0" y2="836.2"/>
<line x1="1947.9" y1="846.7" x2="1947.9" y2="836.2"/>
<line x1="1965.5" y1="846.7" x2="1965.5" y2="836.2"/>
<line x1="1979.2" y1="846.7" x2="1979.2" y2="836.2"/>
<line x1="1990.4" y1="846.7" x2="1990.4" y2="836.2"/>
<line x1="1999.8" y1="846.7" x2="1999.8" y2="836.2"/>
<line x1="2008.0" y1="846.7" x2="2008.0" y2="836.2"/>
<line x1="2015.2" y1="846.7" x2="2015.2" y2="836.2"/>
<line x1="2021.7" y1="846.7" x2="2021.7" y2="825.7"/>
<line x1="2064.2" y1="846.7" x2="2064.2" y2="836.2"/>
<line x1="2089.1" y1="846.7" x2="2089.1" y2="836.2"/>
<line x1="2106.7" y1="846.7" x2="2106.7" y2="836.2"/>
<line x1="2120.4" y1="846.7" x2="2120.4" y2="836.2"/>
<line x1="2131.6" y1="846.7" x2="2131.6" y2="836.2"/>
<line x1="2141.0" y1="846.7" x2="2141.0" y2="836.2"/>
<line x1="2149.2" y1="846.7" x2="2149.2" y2="836.2"/>
<line x1="2156.4" y1="846.7" x2="2156.4" y2="836.2"/>
<line x1="2162.9" y1="846.7" x2="2162.9" y2="825.7"/>
<line x1="1274.0" y1="813.8" x2="1295.0" y2="813.8"/><line x1="2161.5" y1="813.8" x2="2140.5" y2="813.8"/>
<line x1="1274.0" y1="682.2" x2="1295.0" y2="682.2"/><line x1="2161.5" y1="682.2" x2="2140.5" y2="682.2"/>
<line x1="1274.0" y1="550.7" x2="1295.0" y2="550.7"/><line x1="2161.5" y1="550.7" x2="2140.5" y2="550.7"/>
<line x1="1274.0" y1="748.0" x2="1284.5" y2="748.0"/><line x1="2161.5" y1="748.0" x2="2151.0" y2="748.0"/>
<line x1="1274.0" y1="616.5" x2="1284.5" y2="616.5"/><line x1="2161.5" y1="616.5" x2="2151.0" y2="616.5"/>
<line x1="1274.0" y1="484.9" x2="1284.5" y2="484.9"/><line x1="2161.5" y1="484.9" x2="2151.0" y2="484.9"/>
</g>
<rect x="1274.0" y="452.0" width="887.5" height="394.70000000000005" fill="none" stroke="#000" stroke-width="4.20"/>
<text x="1251.0" y="829.7" font-family="'Liberation Serif', 'Times New Roman', serif" font-weight="bold" font-size="53.5" text-anchor="end">0</text>
<text x="1251.0" y="698.2" font-family="'Liberation Serif', 'Times New Roman', serif" font-weight="bold" font-size="53.5" text-anchor="end">40</text>
<text x="1251.0" y="566.6" font-family="'Liberation Serif', 'Times New Roman', serif" font-weight="bold" font-size="53.5" text-anchor="end">80</text>
<clipPath id="c_bb"><rect x="1274.0" y="846.7" width="887.5" height="392.70000000000005"/></clipPath>
<g clip-path="url(#c_bb)" fill="#fff" stroke="#000" stroke-width="4.70">
<circle cx="2089.8" cy="971.6" r="14.60"/>
<circle cx="2076.3" cy="991.2" r="14.60"/>
<circle cx="2064.9" cy="1012.1" r="14.60"/>
<circle cx="2051.4" cy="1029.7" r="14.60"/>
<circle cx="2038.9" cy="1046.4" r="14.60"/>
<circle cx="2024.2" cy="1062.3" r="14.60"/>
<circle cx="2004.8" cy="1080.6" r="14.60"/>
<circle cx="1990.6" cy="1095.7" r="14.60"/>
<circle cx="1976.5" cy="1110.7" r="14.60"/>
<circle cx="1961.0" cy="1124.1" r="14.60"/>
<circle cx="1946.9" cy="1135.0" r="14.60"/>
<circle cx="1932.7" cy="1140.0" r="14.60"/>
<circle cx="1918.6" cy="1149.2" r="14.60"/>
<circle cx="1904.5" cy="1155.8" r="14.60"/>
<circle cx="1890.4" cy="1161.7" r="14.60"/>
<circle cx="1876.5" cy="1167.3" r="14.60"/>
<circle cx="1862.4" cy="1171.7" r="14.60"/>
<circle cx="1848.3" cy="1175.4" r="14.60"/>
<circle cx="1834.1" cy="1179.0" r="14.60"/>
<circle cx="1820.0" cy="1182.8" r="14.60"/>
<circle cx="1805.9" cy="1186.0" r="14.60"/>
<circle cx="1791.8" cy="1187.6" r="14.60"/>
<circle cx="1777.7" cy="1188.6" r="14.60"/>
<circle cx="1763.5" cy="1189.4" r="14.60"/>
<circle cx="1749.4" cy="1190.1" r="14.60"/>
<circle cx="1735.3" cy="1190.7" r="14.60"/>
<circle cx="1721.2" cy="1191.3" r="14.60"/>
<circle cx="1707.1" cy="1191.9" r="14.60"/>
<circle cx="1692.9" cy="1192.5" r="14.60"/>
<circle cx="1678.8" cy="1193.0" r="14.60"/>
<circle cx="1664.7" cy="1193.5" r="14.60"/>
<circle cx="1650.6" cy="1194.0" r="14.60"/>
<circle cx="1636.5" cy="1194.4" r="14.60"/>
<circle cx="1622.3" cy="1194.7" r="14.60"/>
<circle cx="1608.2" cy="1195.1" r="14.60"/>
<circle cx="1594.1" cy="1195.3" r="14.60"/>
<circle cx="1580.0" cy="1195.5" r="14.60"/>
<circle cx="1565.9" cy="1195.6" r="14.60"/>
<circle cx="1551.7" cy="1195.6" r="14.60"/>
<circle cx="1537.6" cy="1195.7" r="14.60"/>
<circle cx="1523.5" cy="1195.7" r="14.60"/>
<circle cx="1509.4" cy="1195.7" r="14.60"/>
<circle cx="1495.3" cy="1195.8" r="14.60"/>
<circle cx="1481.1" cy="1195.8" r="14.60"/>
<circle cx="1467.0" cy="1195.8" r="14.60"/>
<circle cx="1452.9" cy="1195.8" r="14.60"/>
<circle cx="1438.8" cy="1195.9" r="14.60"/>
<circle cx="1424.7" cy="1195.9" r="14.60"/>
<circle cx="1410.5" cy="1195.9" r="14.60"/>
<circle cx="1396.4" cy="1195.9" r="14.60"/>
<circle cx="1382.3" cy="1195.9" r="14.60"/>
<circle cx="1368.2" cy="1195.9" r="14.60"/>
<circle cx="1354.1" cy="1195.9" r="14.60"/>
<circle cx="1339.9" cy="1195.9" r="14.60"/>
<circle cx="1325.8" cy="1196.0" r="14.60"/>
<circle cx="1311.7" cy="1196.0" r="14.60"/>
<polyline points="1315.7,1194.8 1317.8,1194.8 1319.9,1194.8 1322.1,1194.8 1324.2,1194.8 1326.3,1194.8 1328.4,1194.8 1330.6,1194.8 1332.7,1194.8 1334.8,1194.8 1336.9,1194.8 1339.1,1194.8 1341.2,1194.8 1343.3,1194.8 1345.4,1194.8 1347.5,1194.8 1349.7,1194.8 1351.8,1194.8 1353.9,1194.8 1356.0,1194.8 1358.2,1194.8 1360.3,1194.8 1362.4,1194.8 1364.5,1194.8 1366.7,1194.8 1368.8,1194.8 1370.9,1194.8 1373.0,1194.8 1375.2,1194.8 1377.3,1194.8 1379.4,1194.8 1381.5,1194.8 1383.6,1194.8 1385.8,1194.8 1387.9,1194.8 1390.0,1194.8 1392.1,1194.8 1394.3,1194.8 1396.4,1194.8 1398.5,1194.8 1400.6,1194.8 1402.8,1194.8 1404.9,1194.8 1407.0,1194.8 1409.1,1194.8 1411.2,1194.8 1413.4,1194.8 1415.5,1194.8 1417.6,1194.7 1419.7,1194.7 1421.9,1194.7 1424.0,1194.7 1426.1,1194.7 1428.2,1194.7 1430.4,1194.7 1432.5,1194.7 1434.6,1194.7 1436.7,1194.7 1438.9,1194.7 1441.0,1194.7 1443.1,1194.7 1445.2,1194.7 1447.3,1194.7 1449.5,1194.7 1451.6,1194.7 1453.7,1194.7 1455.8,1194.7 1458.0,1194.7 1460.1,1194.7 1462.2,1194.7 1464.3,1194.7 1466.5,1194.7 1468.6,1194.7 1470.7,1194.7 1472.8,1194.7 1474.9,1194.7 1477.1,1194.7 1479.2,1194.7 1481.3,1194.7 1483.4,1194.7 1485.6,1194.7 1487.7,1194.7 1489.8,1194.7 1491.9,1194.7 1494.1,1194.7 1496.2,1194.6 1498.3,1194.6 1500.4,1194.6 1502.6,1194.6 1504.7,1194.6 1506.8,1194.6 1508.9,1194.6 1511.0,1194.6 1513.2,1194.6 1515.3,1194.6 1517.4,1194.6 1519.5,1194.6 1521.7,1194.6 1523.8,1194.6 1525.9,1194.6 1528.0,1194.6 1530.2,1194.6 1532.3,1194.6 1534.4,1194.5 1536.5,1194.5 1538.6,1194.5 1540.8,1194.5 1542.9,1194.5 1545.0,1194.5 1547.1,1194.5 1549.3,1194.5 1551.4,1194.5 1553.5,1194.5 1555.6,1194.5 1557.8,1194.5 1559.9,1194.4 1562.0,1194.4 1564.1,1194.4 1566.3,1194.4 1568.4,1194.4 1570.5,1194.4 1572.6,1194.4 1574.7,1194.4 1576.9,1194.3 1579.0,1194.3 1581.1,1194.3 1583.2,1194.3 1585.4,1194.3 1587.5,1194.3 1589.6,1194.3 1591.7,1194.2 1593.9,1194.2 1596.0,1194.2 1598.1,1194.2 1600.2,1194.2 1602.3,1194.2 1604.5,1194.1 1606.6,1194.1 1608.7,1194.1 1610.8,1194.1 1613.0,1194.1 1615.1,1194.1 1617.2,1194.0 1619.3,1194.0 1621.5,1194.0 1623.6,1194.0 1625.7,1193.9 1627.8,1193.9 1629.9,1193.9 1632.1,1193.9 1634.2,1193.8 1636.3,1193.8 1638.4,1193.8 1640.6,1193.7 1642.7,1193.7 1644.8,1193.7 1646.9,1193.7 1649.1,1193.6 1651.2,1193.6 1653.3,1193.6 1655.4,1193.5 1657.6,1193.5 1659.7,1193.4 1661.8,1193.4 1663.9,1193.4 1666.0,1193.3 1668.2,1193.3 1670.3,1193.2 1672.4,1193.2 1674.5,1193.2 1676.7,1193.1 1678.8,1193.1 1680.9,1193.0 1683.0,1193.0 1685.2,1192.9 1687.3,1192.9 1689.4,1192.8 1691.5,1192.7 1693.6,1192.7 1695.8,1192.6 1697.9,1192.6 1700.0,1192.5 1702.1,1192.4 1704.3,1192.4 1706.4,1192.3 1708.5,1192.2 1710.6,1192.2 1712.8,1192.1 1714.9,1192.0 1717.0,1191.9 1719.1,1191.8 1721.3,1191.8 1723.4,1191.7 1725.5,1191.6 1727.6,1191.5 1729.7,1191.4 1731.9,1191.3 1734.0,1191.2 1736.1,1191.1 1738.2,1191.0 1740.4,1190.9 1742.5,1190.8 1744.6,1190.7 1746.7,1190.5 1748.9,1190.4 1751.0,1190.3 1753.1,1190.2 1755.2,1190.0 1757.3,1189.9 1759.5,1189.8 1761.6,1189.6 1763.7,1189.5 1765.8,1189.3 1768.0,1189.2 1770.1,1189.0 1772.2,1188.8 1774.3,1188.7 1776.5,1188.5 1778.6,1188.3 1780.7,1188.1 1782.8,1187.9 1785.0,1187.8 1787.1,1187.6 1789.2,1187.3 1791.3,1187.1 1793.4,1186.9 1795.6,1186.7 1797.7,1186.5 1799.8,1186.2 1801.9,1186.0 1804.1,1185.7 1806.2,1185.5 1808.3,1185.2 1810.4,1185.0 1812.6,1184.7 1814.7,1184.4 1816.8,1184.1 1818.9,1183.8 1821.0,1183.5 1823.2,1183.2 1825.3,1182.8 1827.4,1182.5 1829.5,1182.1 1831.7,1181.8 1833.8,1181.4 1835.9,1181.0 1838.0,1180.7 1840.2,1180.3 1842.3,1179.9 1844.4,1179.4 1846.5,1179.0 1848.7,1178.6 1850.8,1178.1 1852.9,1177.6 1855.0,1177.1 1857.1,1176.6 1859.3,1176.1 1861.4,1175.6 1863.5,1175.1 1865.6,1174.5 1867.8,1174.0 1869.9,1173.4 1872.0,1172.8 1874.1,1172.2 1876.3,1171.5 1878.4,1170.9 1880.5,1170.2 1882.6,1169.5 1884.7,1168.8 1886.9,1168.1 1889.0,1167.3 1891.1,1166.6 1893.2,1165.8 1895.4,1165.0 1897.5,1164.1 1899.6,1163.3 1901.7,1162.4 1903.9,1161.5 1906.0,1160.6 1908.1,1159.6 1910.2,1158.7 1912.3,1157.7 1914.5,1156.7 1916.6,1155.6 1918.7,1154.5 1920.8,1153.4 1923.0,1152.3 1925.1,1151.1 1927.2,1149.9 1929.3,1148.7 1931.5,1147.4 1933.6,1146.1 1935.7,1144.8 1937.8,1143.5 1940.0,1142.1 1942.1,1140.6 1944.2,1139.2 1946.3,1137.7 1948.4,1136.1 1950.6,1134.6 1952.7,1133.0 1954.8,1131.3 1956.9,1129.6 1959.1,1127.9 1961.2,1126.1 1963.3,1124.3 1965.4,1122.4 1967.6,1120.5 1969.7,1118.6 1971.8,1116.6 1973.9,1114.6 1976.0,1112.5 1978.2,1110.4 1980.3,1108.2 1982.4,1106.0 1984.5,1103.7 1986.7,1101.4 1988.8,1099.1 1990.9,1096.7 1993.0,1094.2 1995.2,1091.7 1997.3,1089.2 1999.4,1086.6 2001.5,1083.9 2003.7,1081.3 2005.8,1078.5 2007.9,1075.7 2010.0,1072.9 2012.1,1070.0 2014.3,1067.1 2016.4,1064.2 2018.5,1061.2 2020.6,1058.1 2022.8,1055.0 2024.9,1051.9 2027.0,1048.7 2029.1,1045.5 2031.3,1042.3 2033.4,1039.0 2035.5,1035.7 2037.6,1032.4 2039.7,1029.1 2041.9,1025.7 2044.0,1022.3 2046.1,1018.9 2048.2,1015.4 2050.4,1012.0 2052.5,1008.5 2054.6,1005.1 2056.7,1001.6 2058.9,998.2 2061.0,994.7 2063.1,991.3 2065.2,987.8 2067.4,984.4 2069.5,981.0 2071.6,977.6 2073.7,974.3 2075.8,971.0 2078.0,967.7 2080.1,964.5 2082.2,961.3 2084.3,958.2 2086.5,955.1 2088.6,952.1 2090.7,949.2 2092.8,946.3 2095.0,943.5 2097.1,940.8 2099.2,938.2 2101.3,935.7 2103.4,933.2 2105.6,930.9 2107.7,928.6 2109.8,926.5 2111.9,924.4 2114.1,922.5 2116.2,920.6 2118.3,918.9 2120.4,917.3 2122.6,915.9 2124.7,914.5 2126.8,913.3 2128.9,912.1 2131.1,911.1 2133.2,910.3 2135.3,909.5 2137.4,908.9 2139.5,908.4 2141.7,908.0 2143.8,907.8 2145.9,907.6 2148.0,907.6 2150.2,907.7 2152.3,907.9 2154.4,908.2 2156.5,908.7 2158.7,909.2 2160.8,909.9 2162.9,910.6" fill="none" stroke-width="8.50" stroke-linejoin="round" stroke-linecap="round"/>
</g>
<g stroke="#000" stroke-width="3.30" fill="none">
<line x1="1273.2" y1="1239.4" x2="1273.2" y2="1228.9"/>
<line x1="1284.4" y1="1239.4" x2="1284.4" y2="1228.9"/>
<line x1="1293.8" y1="1239.4" x2="1293.8" y2="1228.9"/>
<line x1="1302.0" y1="1239.4" x2="1302.0" y2="1228.9"/>
<line x1="1309.2" y1="1239.4" x2="1309.2" y2="1228.9"/>
<line x1="1315.7" y1="1239.4" x2="1315.7" y2="1218.4"/>
<line x1="1358.2" y1="1239.4" x2="1358.2" y2="1228.9"/>
<line x1="1383.1" y1="1239.4" x2="1383.1" y2="1228.9"/>
<line x1="1400.7" y1="1239.4" x2="1400.7" y2="1228.9"/>
<line x1="1414.4" y1="1239.4" x2="1414.4" y2="1228.9"/>
<line x1="1425.6" y1="1239.4" x2="1425.6" y2="1228.9"/>
<line x1="1435.0" y1="1239.4" x2="1435.0" y2="1228.9"/>
<line x1="1443.2" y1="1239.4" x2="1443.2" y2="1228.9"/>
<line x1="1450.4" y1="1239.4" x2="1450.4" y2="1228.9"/>
<line x1="1456.9" y1="1239.4" x2="1456.9" y2="1218.4"/>
<line x1="1499.4" y1="1239.4" x2="1499.4" y2="1228.9"/>
<line x1="1524.3" y1="1239.4" x2="1524.3" y2="1228.9"/>
<line x1="1541.9" y1="1239.4" x2="1541.9" y2="1228.9"/>
<line x1="1555.6" y1="1239.4" x2="1555.6" y2="1228.9"/>
<line x1="1566.8" y1="1239.4" x2="1566.8" y2="1228.9"/>
<line x1="1576.2" y1="1239.4" x2="1576.2" y2="1228.9"/>
<line x1="1584.4" y1="1239.4" x2="1584.4" y2="1228.9"/>
<line x1="1591.6" y1="1239.4" x2="1591.6" y2="1228.9"/>
<line x1="1598.1" y1="1239.4" x2="1598.1" y2="1218.4"/>
<line x1="1640.6" y1="1239.4" x2="1640.6" y2="1228.9"/>
<line x1="1665.5" y1="1239.4" x2="1665.5" y2="1228.9"/>
<line x1="1683.1" y1="1239.4" x2="1683.1" y2="1228.9"/>
<line x1="1696.8" y1="1239.4" x2="1696.8" y2="1228.9"/>
<line x1="1708.0" y1="1239.4" x2="1708.0" y2="1228.9"/>
<line x1="1717.4" y1="1239.4" x2="1717.4" y2="1228.9"/>
<line x1="1725.6" y1="1239.4" x2="1725.6" y2="1228.9"/>
<line x1="1732.8" y1="1239.4" x2="1732.8" y2="1228.9"/>
<line x1="1739.3" y1="1239.4" x2="1739.3" y2="1218.4"/>
<line x1="1781.8" y1="1239.4" x2="1781.8" y2="1228.9"/>
<line x1="1806.7" y1="1239.4" x2="1806.7" y2="1228.9"/>
<line x1="1824.3" y1="1239.4" x2="1824.3" y2="1228.9"/>
<line x1="1838.0" y1="1239.4" x2="1838.0" y2="1228.9"/>
<line x1="1849.2" y1="1239.4" x2="1849.2" y2="1228.9"/>
<line x1="1858.6" y1="1239.4" x2="1858.6" y2="1228.9"/>
<line x1="1866.8" y1="1239.4" x2="1866.8" y2="1228.9"/>
<line x1="1874.0" y1="1239.4" x2="1874.0" y2="1228.9"/>
<line x1="1880.5" y1="1239.4" x2="1880.5" y2="1218.4"/>
<line x1="1923.0" y1="1239.4" x2="1923.0" y2="1228.9"/>
<line x1="1947.9" y1="1239.4" x2="1947.9" y2="1228.9"/>
<line x1="1965.5" y1="1239.4" x2="1965.5" y2="1228.9"/>
<line x1="1979.2" y1="1239.4" x2="1979.2" y2="1228.9"/>
<line x1="1990.4" y1="1239.4" x2="1990.4" y2="1228.9"/>
<line x1="1999.8" y1="1239.4" x2="1999.8" y2="1228.9"/>
<line x1="2008.0" y1="1239.4" x2="2008.0" y2="1228.9"/>
<line x1="2015.2" y1="1239.4" x2="2015.2" y2="1228.9"/>
<line x1="2021.7" y1="1239.4" x2="2021.7" y2="1218.4"/>
<line x1="2064.2" y1="1239.4" x2="2064.2" y2="1228.9"/>
<line x1="2089.1" y1="1239.4" x2="2089.1" y2="1228.9"/>
<line x1="2106.7" y1="1239.4" x2="2106.7" y2="1228.9"/>
<line x1="2120.4" y1="1239.4" x2="2120.4" y2="1228.9"/>
<line x1="2131.6" y1="1239.4" x2="2131.6" y2="1228.9"/>
<line x1="2141.0" y1="1239.4" x2="2141.0" y2="1228.9"/>
<line x1="2149.2" y1="1239.4" x2="2149.2" y2="1228.9"/>
<line x1="2156.4" y1="1239.4" x2="2156.4" y2="1228.9"/>
<line x1="2162.9" y1="1239.4" x2="2162.9" y2="1218.4"/>
<line x1="1274.0" y1="1197.6" x2="1295.0" y2="1197.6"/><line x1="2161.5" y1="1197.6" x2="2140.5" y2="1197.6"/>
<line x1="1274.0" y1="1030.5" x2="1295.0" y2="1030.5"/><line x1="2161.5" y1="1030.5" x2="2140.5" y2="1030.5"/>
<line x1="1274.0" y1="863.4" x2="1295.0" y2="863.4"/><line x1="2161.5" y1="863.4" x2="2140.5" y2="863.4"/>
<line x1="1274.0" y1="1114.1" x2="1284.5" y2="1114.1"/><line x1="2161.5" y1="1114.1" x2="2151.0" y2="1114.1"/>
<line x1="1274.0" y1="947.0" x2="1284.5" y2="947.0"/><line x1="2161.5" y1="947.0" x2="2151.0" y2="947.0"/>
</g>
<rect x="1274.0" y="846.7" width="887.5" height="392.70000000000005" fill="none" stroke="#000" stroke-width="4.20"/>
<text x="1251.0" y="1213.5" font-family="'Liberation Serif', 'Times New Roman', serif" font-weight="bold" font-size="53.5" text-anchor="end">0</text>
<text x="1251.0" y="1046.4" font-family="'Liberation Serif', 'Times New Roman', serif" font-weight="bold" font-size="53.5" text-anchor="end">20</text>
<text x="1251.0" y="879.3" font-family="'Liberation Serif', 'Times New Roman', serif" font-weight="bold" font-size="53.5" text-anchor="end">40</text>
<text x="214.0" y="1295.5" font-family="'Liberation Serif', 'Times New Roman', serif" font-weight="bold" font-size="48.0" text-anchor="middle">10<tspan font-size="30.0" dy="-28.5">0</tspan></text>
<text x="346.6" y="1295.5" font-family="'Liberation Serif', 'Times New Roman', serif" font-weight="bold" font-size="48.0" text-anchor="middle">10<tspan font-size="30.0" dy="-28.5">1</tspan></text>
<text x="479.1" y="1295.5" font-family="'Liberation Serif', 'Times New Roman', serif" font-weight="bold" font-size="48.0" text-anchor="middle">10<tspan font-size="30.0" dy="-28.5">2</tspan></text>
<text x="611.7" y="1295.5" font-family="'Liberation Serif', 'Times New Roman', serif" font-weight="bold" font-size="48.0" text-anchor="middle">10<tspan font-size="30.0" dy="-28.5">3</tspan></text>
<text x="744.2" y="1295.5" font-family="'Liberation Serif', 'Times New Roman', serif" font-weight="bold" font-size="48.0" text-anchor="middle">10<tspan font-size="30.0" dy="-28.5">4</tspan></text>
<text x="876.8" y="1295.5" font-family="'Liberation Serif', 'Times New Roman', serif" font-weight="bold" font-size="48.0" text-anchor="middle">10<tspan font-size="30.0" dy="-28.5">5</tspan></text>
<text x="1009.3" y="1295.5" font-family="'Liberation Serif', 'Times New Roman', serif" font-weight="bold" font-size="48.0" text-anchor="middle">10<tspan font-size="30.0" dy="-28.5">6</tspan></text>
<text x="1315.7" y="1313.0" font-family="'Liberation Serif', 'Times New Roman', serif" font-weight="bold" font-size="51.1" text-anchor="middle">10<tspan font-size="32.0" dy="-30.4">0</tspan></text>
<text x="1456.9" y="1313.0" font-family="'Liberation Serif', 'Times New Roman', serif" font-weight="bold" font-size="51.1" text-anchor="middle">10<tspan font-size="32.0" dy="-30.4">1</tspan></text>
<text x="1598.1" y="1313.0" font-family="'Liberation Serif', 'Times New Roman', serif" font-weight="bold" font-size="51.1" text-anchor="middle">10<tspan font-size="32.0" dy="-30.4">2</tspan></text>
<text x="1739.3" y="1313.0" font-family="'Liberation Serif', 'Times New Roman', serif" font-weight="bold" font-size="51.1" text-anchor="middle">10<tspan font-size="32.0" dy="-30.4">3</tspan></text>
<text x="1880.5" y="1313.0" font-family="'Liberation Serif', 'Times New Roman', serif" font-weight="bold" font-size="51.1" text-anchor="middle">10<tspan font-size="32.0" dy="-30.4">4</tspan></text>
<text x="2021.7" y="1313.0" font-family="'Liberation Serif', 'Times New Roman', serif" font-weight="bold" font-size="51.1" text-anchor="middle">10<tspan font-size="32.0" dy="-30.4">5</tspan></text>
<text x="2162.9" y="1313.0" font-family="'Liberation Serif', 'Times New Roman', serif" font-weight="bold" font-size="51.1" text-anchor="middle">10<tspan font-size="32.0" dy="-30.4">6</tspan></text>
<text x="209" y="111" font-family="'Liberation Serif', 'Times New Roman', serif" font-weight="bold" font-size="63">(a)</text>
<text x="1301" y="114" font-family="'Liberation Serif', 'Times New Roman', serif" font-weight="bold" font-size="67">(b)</text>
<text x="209.5" y="323.5" font-family="'Liberation Serif', 'Times New Roman', serif" font-weight="bold" font-size="49.5"><tspan font-size="49.5" dy="0.0">PEO</tspan><tspan font-size="26.7" dy="17.8">10</tspan><tspan font-size="49.5" dy="-17.8">LiClO</tspan><tspan font-size="26.7" dy="17.8">4</tspan></text>
<text x="207.5" y="1105.4" font-family="'Liberation Serif', 'Times New Roman', serif" font-weight="bold" font-size="49.5"><tspan font-size="49.5" dy="0.0">PEO</tspan><tspan font-size="26.7" dy="17.8">15</tspan><tspan font-size="49.5" dy="-17.8">LiClO</tspan><tspan font-size="26.7" dy="17.8">4</tspan></text>
<text x="1320.5" y="355.2" font-family="'Liberation Serif', 'Times New Roman', serif" font-weight="bold" font-size="52"><tspan font-size="52.0" dy="0.0">PEO</tspan><tspan font-size="28.1" dy="18.7">10</tspan><tspan font-size="52.0" dy="-18.7">LiClO</tspan><tspan font-size="28.1" dy="18.7">4</tspan><tspan font-size="52.0" dy="-18.7">-LLZO</tspan></text>
<text x="1318.5" y="767.0" font-family="'Liberation Serif', 'Times New Roman', serif" font-weight="bold" font-size="52"><tspan font-size="52.0" dy="0.0">PEO</tspan><tspan font-size="28.1" dy="18.7">12</tspan><tspan font-size="52.0" dy="-18.7">LiClO</tspan><tspan font-size="28.1" dy="18.7">4</tspan><tspan font-size="52.0" dy="-18.7">-LLZO</tspan></text>
<text x="1320.5" y="1156.0" font-family="'Liberation Serif', 'Times New Roman', serif" font-weight="bold" font-size="52"><tspan font-size="52.0" dy="0.0">PEO</tspan><tspan font-size="28.1" dy="18.7">15</tspan><tspan font-size="52.0" dy="-18.7">LiClO</tspan><tspan font-size="28.1" dy="18.7">4</tspan><tspan font-size="52.0" dy="-18.7">-LLZO</tspan></text>
<text transform="translate(76.5,738) rotate(-90)" font-family="'Liberation Serif', 'Times New Roman', serif" font-weight="bold" font-style="italic" font-size="63">tanδ = ε′′/ε′</text>
<text transform="translate(1150,783) rotate(-90)" font-family="'Liberation Serif', 'Times New Roman', serif" font-weight="bold" font-style="italic" font-size="67">tanδ = ε′′/ε′</text>
<text transform="translate(497,1359.6) scale(1.62,1)" font-family="'Liberation Serif', 'Times New Roman', serif" font-weight="bold" font-style="italic" font-size="63">f</text>
<text x="543.5" y="1359.6" font-family="'Liberation Serif', 'Times New Roman', serif" font-weight="bold" font-size="63">(Hz)</text>
<text transform="translate(1641.5,1404) scale(1.62,1)" font-family="'Liberation Serif', 'Times New Roman', serif" font-weight="bold" font-style="italic" font-size="67">f</text>
<text x="1691.0" y="1404" font-family="'Liberation Serif', 'Times New Roman', serif" font-weight="bold" font-size="67">(Hz)</text>
</svg>
</body></html>
